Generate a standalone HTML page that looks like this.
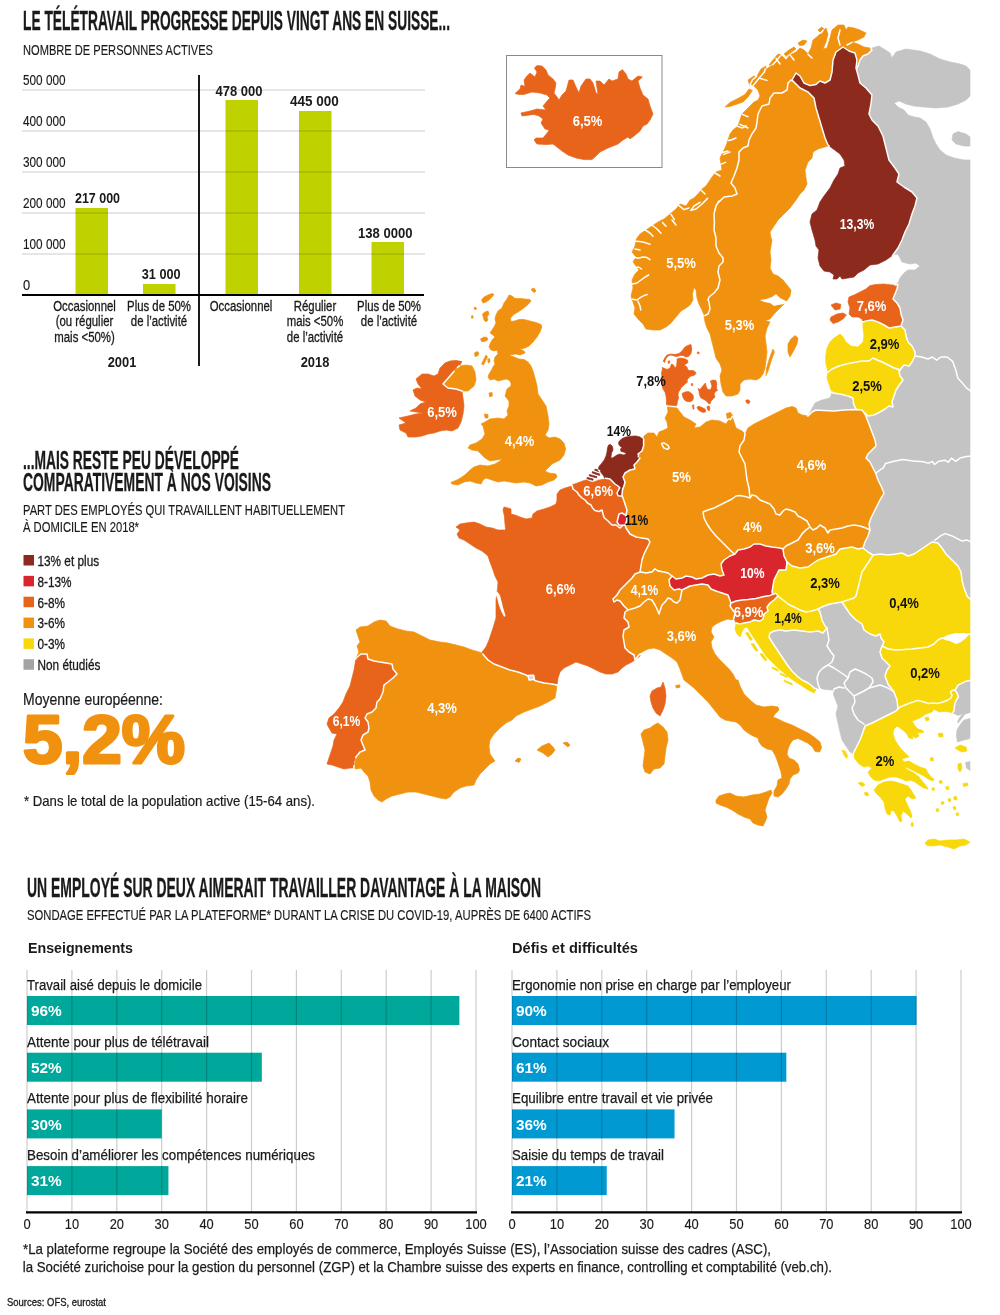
<!DOCTYPE html>
<html lang="fr">
<head>
<meta charset="utf-8">
<title>Le télétravail progresse depuis vingt ans en Suisse</title>
<style>
html,body{margin:0;padding:0;background:#fff;}
body{width:1000px;height:1315px;overflow:hidden;}
svg{display:block;font-family:"Liberation Sans",sans-serif;}
</style>
</head>
<body>
<svg width="1000" height="1315" viewBox="0 0 1000 1315" fill="#1a1a1a">
<path fill="#c4c4c4" stroke="#c4c4c4" stroke-width="0.7" stroke-linejoin="round" d="M866.0,52.4L870.0,51.6L872.0,48.0L879.0,46.0L884.0,49.0L890.0,53.0L892.0,58.0L896.0,52.0L906.0,49.0L920.0,51.0L930.0,54.0L940.0,59.0L950.0,62.0L960.0,64.0L966.0,66.0L970.0,70.0L976.0,70.0L976.0,96.0L970.0,96.0L966.0,100.0L958.0,104.0L948.0,107.0L936.0,108.0L924.0,107.0L914.0,106.0L906.0,104.0L899.0,101.0L894.0,103.0L898.0,107.0L904.0,110.0L908.0,115.0L914.0,117.0L920.0,118.0L926.0,122.0L930.0,129.0L933.0,138.0L936.0,144.0L940.0,150.0L946.0,155.0L954.0,158.0L964.0,160.0L976.0,160.0L980.0,440.0L980.0,600.0L960.0,600.0L920.0,560.0L860.0,560.0L860.0,520.0L840.0,420.0L816.0,410.0L812.0,412.0L808.0,416.0L815.0,403.0L822.0,400.0L830.0,398.0L832.0,393.0L860.0,380.0L890.0,340.0L890.0,300.0L894.0,285.6L898.0,283.0L900.0,278.0L904.0,273.0L908.0,270.0L915.0,270.0L920.0,266.0L916.0,263.0L910.0,264.0L902.0,262.0L898.0,254.0L893.0,255.0L884.0,252.0L894.0,240.0L904.0,214.0L908.0,198.0L890.0,174.0L880.0,160.0L874.0,136.0L860.0,114.0L862.0,95.0L850.0,83.0L850.0,60.0Z"/>
<path fill="#c4c4c4" stroke="#c4c4c4" stroke-width="0.7" stroke-linejoin="round" d="M953.0,134.0L958.0,131.6L966.0,134.0L970.0,137.0L976.0,137.0L976.0,146.0L970.0,146.0L964.0,146.0L956.0,144.0L952.0,140.0Z"/>
<path fill="#c4c4c4" stroke="#c4c4c4" stroke-width="0.7" stroke-linejoin="round" d="M780.0,626.0L800.0,626.0L818.0,626.0L827.0,628.0L816.0,620.0L810.0,600.0L840.0,590.0L864.0,616.0L888.0,640.0L896.0,670.0L904.0,700.0L904.0,710.0L900.0,716.0L888.0,722.0L876.0,728.0L868.0,734.0L864.0,742.0L860.0,750.0L854.0,755.0L851.0,752.4L850.0,752.0L846.0,746.0L842.0,740.0L840.0,732.0L838.0,723.0L836.0,714.0L838.0,706.0L834.0,696.0L832.0,690.0L820.0,689.0L814.0,687.0L814.0,691.0L807.0,686.0L800.0,681.0L793.0,676.0L786.0,670.0L780.0,663.0L773.0,655.0L767.0,646.0L764.0,636.0L772.0,628.0L780.0,626.0L796.0,626.0L812.0,626.0Z"/>
<path fill="#c4c4c4" stroke="#c4c4c4" stroke-width="0.7" stroke-linejoin="round" d="M950.0,690.0L950.0,684.0L960.0,676.0L972.0,675.0L972.0,712.0L965.0,714.0L962.0,718.0L958.0,723.0L957.5,722.0L960.0,717.0L963.0,713.5L958.0,715.5L953.0,713.0L951.0,710.0Z"/>
<path fill="#c4c4c4" stroke="#c4c4c4" stroke-width="0.7" stroke-linejoin="round" d="M972.0,718.0L964.0,720.0L960.0,725.0L957.0,730.0L956.5,736.0L957.5,742.0L964.0,740.0L972.0,738.0Z"/>
<path fill="#c4c4c4" stroke="#c4c4c4" stroke-width="0.7" stroke-linejoin="round" d="M965.6,762.4L970.0,761.6L976.0,762.0L976.0,770.4L970.0,770.4L966.4,768.0Z"/>
<path fill="#e8641b" stroke="#e8641b" stroke-width="0.7" stroke-linejoin="round" d="M515.0,93.6L520.0,89.0L521.0,85.0L525.0,86.4L524.0,80.0L527.0,76.0L530.0,73.0L535.0,77.0L537.0,72.0L534.4,68.0L537.0,65.6L542.0,66.0L546.0,70.0L548.0,75.0L553.0,79.0L556.0,83.0L555.0,89.0L554.0,93.0L557.0,97.0L559.0,100.0L562.0,95.0L566.0,91.0L569.0,80.0L573.0,80.0L576.0,87.0L579.0,93.0L581.0,86.0L586.0,79.0L590.0,79.0L593.0,83.0L596.0,93.0L598.0,94.0L596.0,81.0L600.0,81.0L604.0,85.0L609.0,79.0L612.0,81.0L618.0,79.0L619.0,72.0L622.4,69.6L626.0,74.0L628.0,79.0L632.0,81.0L638.0,76.0L642.4,77.0L638.0,81.0L640.0,88.0L643.0,95.0L648.0,99.0L650.0,106.0L653.0,114.0L650.0,120.0L647.0,124.0L643.0,126.0L640.0,131.0L634.0,136.0L630.0,139.0L628.0,137.0L623.0,140.0L618.0,144.0L608.0,148.0L600.0,152.0L596.0,156.0L592.0,159.6L584.0,159.6L576.0,158.0L568.0,155.0L562.0,151.0L557.0,147.0L553.0,144.0L546.0,144.6L537.0,144.0L534.0,140.0L536.0,138.0L543.0,138.0L548.0,132.0L549.0,130.0L545.0,129.0L541.0,123.0L543.0,119.0L539.0,116.0L534.0,114.4L522.0,116.0L521.0,113.0L530.0,111.0L537.0,109.0L546.0,110.0L543.0,106.0L548.0,100.0L550.0,98.0L547.0,95.0L540.0,93.0L532.0,92.0L524.0,94.4L519.0,94.4Z"/>
<path fill="#f0920f" stroke="#f0920f" stroke-width="0.7" stroke-linejoin="round" d="M704.0,315.0L702.0,310.0L699.0,304.0L697.0,298.0L696.0,290.0L694.0,287.6L692.4,294.0L693.0,300.0L690.0,305.0L686.0,308.0L681.0,311.0L676.0,317.0L671.0,323.0L666.0,327.0L660.0,330.0L653.0,330.0L646.0,329.0L643.0,324.0L638.0,319.0L634.0,314.0L635.0,308.0L633.0,302.0L631.0,296.0L633.0,288.0L632.0,280.0L635.0,274.0L639.0,270.0L636.0,266.0L633.0,262.0L636.0,257.0L632.0,252.0L635.0,246.0L636.0,240.0L637.0,238.0L640.0,234.0L646.0,230.0L652.0,226.0L658.0,222.0L664.0,219.0L670.0,214.0L676.0,209.0L680.0,204.0L686.0,206.0L690.0,200.0L694.0,198.0L698.0,194.0L702.0,189.0L706.0,186.0L710.0,180.0L712.0,177.0L716.0,172.0L722.0,170.0L721.0,164.0L720.0,158.0L723.0,152.0L726.0,146.0L728.0,140.0L730.0,134.0L733.0,130.0L738.0,126.0L740.0,120.0L742.0,114.0L746.0,110.0L750.0,106.0L754.0,102.0L758.0,100.0L760.0,96.0L758.0,90.0L754.0,86.0L750.0,86.0L748.0,80.0L754.0,76.0L760.0,78.0L762.0,72.0L768.0,68.0L774.0,64.0L776.0,58.0L782.0,56.0L786.0,60.0L790.0,55.0L796.0,52.0L800.0,48.0L804.0,50.0L808.0,54.0L811.0,48.0L813.0,40.0L818.0,36.0L822.0,32.0L826.0,28.0L828.0,34.0L826.0,42.0L823.0,49.0L827.0,48.0L830.0,38.0L832.0,30.0L838.0,25.0L844.0,25.0L846.0,30.0L848.0,27.0L854.0,28.0L860.0,30.0L866.0,33.0L864.0,37.0L858.0,40.0L852.0,42.0L858.0,44.0L864.0,47.0L870.0,48.0L872.0,50.0L868.0,54.0L863.0,56.0L860.0,60.0L858.0,66.0L852.0,80.0L820.0,100.0L800.0,96.0L780.0,104.0L768.0,124.0L752.0,160.0L740.0,200.0L728.0,220.0L728.0,280.0L720.0,300.0L712.0,316.0Z"/>
<path fill="none" stroke="#fff" stroke-width="1.5" stroke-linejoin="round" stroke-linecap="round" d="M870.9,48.9L872.0,50.0L868.0,54.0L863.0,56.0L860.0,60.0L858.0,66.0L852.0,80.0L849.5,81.6"/>
<path fill="#f0920f" stroke="#f0920f" stroke-width="0.7" stroke-linejoin="round" d="M725.0,107.0L730.0,102.4L738.0,98.4L745.0,94.4L749.0,89.0L752.4,90.4L748.0,97.0L743.0,102.0L736.0,104.4L730.0,106.4ZM750.0,85.0L752.4,80.0L757.0,76.0L761.0,69.0L766.0,66.0L764.4,72.0L760.0,77.0L756.0,82.0L752.4,86.4ZM769.0,65.0L773.0,60.0L778.0,54.0L781.0,55.0L777.0,60.0L773.0,64.4ZM784.0,54.0L789.0,50.0L794.0,47.0L796.0,49.0L791.0,52.4L786.4,56.0ZM798.0,43.0L803.0,40.0L807.0,41.0L804.0,45.0L799.6,45.6ZM818.0,30.0L821.6,27.0L824.0,29.0L821.0,33.0Z"/>
<path fill="none" stroke="#fff" stroke-width="1.5" stroke-linejoin="round" stroke-linecap="round" d="M765.1,69.3L764.4,72.0L760.0,77.0L756.0,82.0L752.4,86.4L750.0,85.0L752.4,80.0L756.6,76.3M780.1,56.1L777.0,60.0L773.0,64.4L772.4,64.5M823.1,30.2L821.0,33.0L820.6,32.6"/>
<path fill="#f0920f" stroke="#f0920f" stroke-width="0.7" stroke-linejoin="round" d="M791.0,80.0L788.0,83.0L787.0,90.0L782.0,93.0L774.0,93.0L770.0,98.0L769.0,104.0L762.0,106.0L758.0,114.0L757.0,122.0L756.0,128.0L752.0,134.0L749.0,140.0L748.0,146.0L743.0,148.0L739.0,152.0L739.0,160.0L737.0,168.0L734.0,176.0L731.0,183.0L735.0,188.0L737.0,194.0L732.0,196.0L724.0,197.0L719.0,202.0L719.0,201.0L716.0,206.0L714.0,214.0L714.4,222.0L714.0,230.0L716.0,238.0L716.0,246.0L719.0,253.0L723.0,258.0L723.0,262.0L719.0,266.0L718.0,272.0L720.0,280.0L718.0,288.0L714.0,293.0L709.0,297.0L708.0,300.0L709.0,302.0L710.0,309.0L708.0,314.0L704.0,316.0L705.0,322.0L707.0,328.0L710.0,334.0L712.0,342.0L714.0,350.0L716.0,358.0L720.0,364.0L722.0,370.0L720.0,376.0L721.0,384.0L723.0,392.0L726.0,396.0L732.0,396.0L738.0,394.0L740.0,390.0L740.0,384.0L744.0,380.0L750.0,379.0L756.0,380.0L760.0,378.0L763.0,374.0L765.0,368.0L766.0,360.0L767.0,352.0L766.0,344.0L765.0,336.0L767.0,328.0L770.0,322.0L765.0,320.4L770.0,319.0L774.0,314.0L778.0,310.0L782.0,306.0L786.0,302.0L790.0,296.0L791.0,290.0L787.0,285.0L783.0,280.0L778.0,276.0L773.0,274.0L770.0,268.0L771.0,260.0L770.0,252.0L771.0,246.0L772.0,240.0L771.0,238.0L770.0,232.0L774.0,226.0L778.0,220.0L784.0,214.0L790.0,208.0L796.0,200.0L800.0,194.0L804.0,190.0L807.0,184.0L806.0,178.0L805.0,170.0L808.0,162.0L812.0,158.0L813.0,152.0L818.0,149.0L828.0,146.0L836.0,140.0L828.0,120.0L820.0,100.0L804.0,86.0Z"/>
<path fill="none" stroke="#fff" stroke-width="1.5" stroke-linejoin="round" stroke-linecap="round" d="M820.2,100.5L820.0,100.0L804.0,86.0L791.0,80.0L788.0,83.0L787.0,90.0L782.0,93.0L774.0,93.0L770.0,98.0L769.0,104.0L762.0,106.0L758.0,114.0L757.0,122.0L756.0,128.0L752.0,134.0L749.0,140.0L748.0,146.0L743.0,148.0L739.0,152.0L739.0,160.0L737.0,168.0L734.0,176.0L731.0,183.0L735.0,188.0L737.0,194.0L732.0,196.0L724.0,197.0L719.0,202.0L719.0,201.0L716.0,206.0L714.0,214.0L714.4,222.0L714.0,230.0L716.0,238.0L716.0,246.0L719.0,253.0L723.0,258.0L723.0,262.0L719.0,266.0L718.0,272.0L720.0,280.0L718.0,288.0L714.0,293.0L709.0,297.0L708.0,300.0L709.0,302.0L710.0,309.0L708.0,314.0L704.8,315.6"/>
<path fill="#f0920f" stroke="#f0920f" stroke-width="0.7" stroke-linejoin="round" d="M773.0,349.0L774.4,352.0L771.4,360.0L768.4,370.0L766.0,375.6L766.6,368.0L769.6,358.0Z"/>
<path fill="#f0920f" stroke="#f0920f" stroke-width="0.7" stroke-linejoin="round" d="M795.0,335.6L798.0,338.0L797.0,344.0L794.0,350.0L790.0,357.0L788.0,352.0L788.0,344.0L791.0,339.0Z"/>
<path fill="#8c2a1e" stroke="#8c2a1e" stroke-width="0.7" stroke-linejoin="round" d="M792.0,80.0L796.0,73.0L800.0,76.0L804.0,83.0L810.0,85.6L816.0,84.4L820.0,81.0L825.0,83.0L830.0,80.0L832.0,72.0L833.0,60.0L836.0,52.0L843.0,47.0L849.0,51.0L855.0,53.0L857.0,60.0L856.0,68.0L858.0,75.0L860.0,83.0L866.0,88.0L872.0,95.0L871.0,104.0L869.0,114.0L872.0,120.0L878.0,126.0L883.0,136.0L886.0,148.0L889.0,160.0L895.0,168.0L899.0,174.0L897.0,182.0L904.0,187.0L912.0,192.0L917.0,198.0L915.0,206.0L912.0,214.0L909.0,224.0L905.0,232.0L902.0,240.0L898.0,248.0L893.0,255.0L886.0,260.0L878.0,264.0L870.0,265.0L864.0,270.0L858.0,273.0L854.0,277.0L848.0,278.0L842.0,279.0L840.0,276.0L837.0,279.0L833.0,279.0L834.0,275.0L830.0,272.0L824.0,271.0L820.0,266.0L818.0,258.0L819.0,250.0L816.0,246.0L815.0,240.0L812.0,230.0L810.0,222.0L812.0,214.0L817.0,210.0L820.0,202.0L824.0,196.0L830.0,188.0L834.0,180.0L838.0,174.0L840.0,168.0L845.0,166.0L844.0,160.0L840.0,154.0L832.0,148.0L828.0,145.0L825.0,138.0L822.0,128.0L819.0,118.0L816.0,108.0L814.0,98.0L808.0,92.0L800.0,88.0L795.0,83.0Z"/>
<path fill="none" stroke="#fff" stroke-width="1.5" stroke-linejoin="round" stroke-linecap="round" d="M829.1,145.8L828.0,145.0L825.0,138.0L822.0,128.0L819.0,118.0L816.0,108.0L814.0,98.0L808.0,92.0L800.0,88.0L795.0,83.0L792.0,80.0L796.0,73.0L800.0,76.0L804.0,83.0L810.0,85.6L816.0,84.4L820.0,81.0L825.0,83.0L830.0,80.0L832.0,72.0L833.0,60.0L836.0,52.0L843.0,47.0L849.0,51.0L855.0,53.0L857.0,60.0L856.0,68.0L858.0,75.0L860.0,83.0L866.0,88.0L872.0,95.0L871.0,104.0L869.0,114.0L872.0,120.0L878.0,126.0L883.0,136.0L886.0,148.0L889.0,160.0L895.0,168.0L899.0,174.0L897.0,182.0L904.0,187.0L912.0,192.0L917.0,198.0L915.0,206.0L912.0,214.0L909.0,224.0L905.0,232.0L902.0,240.0L898.0,248.0L893.0,255.0L892.5,255.4"/>
<path fill="#f8d80a" stroke="#f8d80a" stroke-width="0.7" stroke-linejoin="round" d="M826.0,354.0L827.0,348.0L830.0,342.0L834.0,338.0L840.0,334.0L843.0,337.0L846.0,342.0L851.0,346.0L858.0,347.0L863.0,342.0L864.0,336.0L863.0,328.0L863.0,322.0L866.0,321.0L872.0,320.0L878.0,322.0L884.0,325.0L889.0,328.0L895.0,327.0L901.0,326.0L905.0,330.0L906.0,336.0L908.0,342.0L912.0,346.0L915.0,352.0L915.0,356.0L912.0,362.0L909.0,366.0L904.0,365.0L900.0,370.0L894.0,368.0L888.0,365.0L882.0,362.0L877.0,360.0L873.0,358.0L869.0,361.0L862.0,361.0L854.0,362.4L846.0,364.0L839.0,366.0L832.0,369.0L828.0,372.0L826.0,364.0L825.6,358.0Z"/>
<path fill="none" stroke="#fff" stroke-width="1.5" stroke-linejoin="round" stroke-linecap="round" d="M889.5,327.9L895.0,327.0L901.0,326.0L905.0,330.0L906.0,336.0L908.0,342.0L912.0,346.0L915.0,352.0L915.0,356.0L912.0,362.0L909.0,366.0L904.0,365.0L900.0,370.0L894.0,368.0L888.0,365.0L882.0,362.0L877.0,360.0L875.1,359.0"/>
<path fill="#f8d80a" stroke="#f8d80a" stroke-width="0.7" stroke-linejoin="round" d="M828.0,372.0L832.0,369.0L839.0,366.0L846.0,364.0L854.0,362.4L862.0,361.0L869.0,361.0L873.0,358.0L877.0,360.0L882.0,362.0L888.0,365.0L894.0,368.0L900.0,370.0L899.0,371.0L900.0,376.0L903.0,380.0L900.0,384.0L896.0,390.0L894.0,396.0L892.0,402.0L893.0,407.0L889.0,406.0L885.0,409.0L880.0,412.0L874.0,415.0L868.0,416.0L865.0,413.0L860.0,411.0L856.0,409.0L853.6,404.0L853.0,398.0L848.0,396.0L840.0,394.0L833.0,393.0L831.0,390.0L829.0,384.0L827.0,378.0Z"/>
<path fill="none" stroke="#fff" stroke-width="1.5" stroke-linejoin="round" stroke-linecap="round" d="M827.9,372.5L828.0,372.0L832.0,369.0L839.0,366.0L846.0,364.0L854.0,362.4L862.0,361.0L869.0,361.0L873.0,358.0L877.0,360.0L882.0,362.0L888.0,365.0L894.0,368.0L900.0,370.0L899.0,371.0L900.0,376.0L903.0,380.0L900.0,384.0L896.0,390.0L894.0,396.0L892.0,402.0L893.0,407.0L889.0,406.0L885.0,409.0L880.0,412.0L874.0,415.0L868.0,416.0L865.0,413.0L860.0,411.0L856.0,409.0L853.6,404.0L853.0,398.0L848.0,396.0L840.0,394.0L833.0,393.0L832.5,392.2"/>
<path fill="#e8641b" stroke="#e8641b" stroke-width="0.7" stroke-linejoin="round" d="M898.0,284.4L892.0,285.0L884.0,284.0L876.0,284.4L870.0,285.6L866.0,289.0L860.0,292.0L854.0,295.0L849.0,297.0L848.0,302.0L850.0,308.0L849.0,314.0L852.0,317.0L858.0,317.0L862.0,319.0L863.0,322.0L866.0,321.0L872.0,320.0L878.0,322.0L884.0,325.0L889.0,328.0L895.0,327.0L901.0,326.0L903.0,320.0L901.0,314.0L900.0,308.0L897.0,303.0L893.0,299.0L895.0,294.0L897.0,289.0Z"/>
<path fill="none" stroke="#fff" stroke-width="1.5" stroke-linejoin="round" stroke-linecap="round" d="M862.8,321.5L863.0,322.0L866.0,321.0L872.0,320.0L878.0,322.0L884.0,325.0L889.0,328.0L895.0,327.0L901.0,326.0L903.0,320.0L901.0,314.0L900.0,308.0L897.0,303.0L893.0,299.0L895.0,294.0L897.0,289.0L898.0,284.4L894.4,284.8"/>
<path fill="#e8641b" stroke="#e8641b" stroke-width="0.7" stroke-linejoin="round" d="M831.0,305.0L836.0,303.0L841.0,304.4L840.0,309.0L835.0,310.0Z"/>
<path fill="#e8641b" stroke="#e8641b" stroke-width="0.7" stroke-linejoin="round" d="M831.0,317.0L837.0,314.0L843.0,313.0L846.4,315.0L843.0,319.0L838.0,322.0L833.0,323.6L830.0,320.0Z"/>
<path fill="#e8641b" stroke="#e8641b" stroke-width="0.7" stroke-linejoin="round" d="M677.0,359.0L680.0,358.0L684.0,358.5L687.5,360.0L688.0,362.5L686.0,364.0L684.0,365.0L687.0,367.0L687.5,369.0L689.0,370.5L693.0,370.5L695.5,372.0L696.0,373.5L694.0,375.5L691.0,376.0L689.0,377.5L687.0,380.0L687.5,382.0L685.0,384.0L683.0,386.0L681.0,388.0L680.0,390.0L678.5,392.0L678.0,395.0L678.5,398.0L677.5,401.0L677.0,404.5L676.5,405.8L666.5,404.8L666.5,400.0L666.0,396.0L665.0,392.0L663.0,389.0L662.0,385.0L661.5,381.0L662.0,377.0L661.5,373.0L662.5,369.0L662.0,367.5L665.0,368.5L667.0,369.5L670.0,368.0L671.5,364.0L673.5,365.0L675.0,368.0L676.5,366.0L677.0,362.0Z"/>
<path fill="#e8641b" stroke="#e8641b" stroke-width="0.7" stroke-linejoin="round" d="M691.0,344.5L691.8,349.0L691.0,353.5L688.5,356.5L686.0,357.0L683.0,355.5L680.0,355.5L677.0,356.5L674.0,356.0L671.0,355.0L668.0,356.0L666.0,358.5L664.5,362.5L663.2,361.2L665.0,357.5L667.0,355.0L671.0,354.0L675.0,354.5L679.0,353.5L682.0,351.0L684.5,347.5L687.5,345.5Z"/>
<path fill="#e8641b" stroke="#e8641b" stroke-width="0.7" stroke-linejoin="round" d="M682.0,393.5L685.0,392.0L688.5,391.5L691.0,393.0L693.0,395.0L693.5,398.0L692.5,400.5L690.0,401.8L687.0,401.5L684.5,400.0L683.0,397.5Z"/>
<path fill="#e8641b" stroke="#e8641b" stroke-width="0.7" stroke-linejoin="round" d="M698.0,388.5L700.0,389.5L702.0,387.0L704.0,384.5L705.5,383.0L706.0,386.0L707.0,388.5L709.0,390.0L711.0,389.0L712.0,386.0L711.0,383.0L710.5,381.0L713.0,380.0L716.0,380.5L716.8,384.0L716.5,388.0L717.5,390.5L715.5,391.5L714.0,394.0L715.0,397.0L713.0,399.0L711.0,401.0L710.0,404.0L708.0,403.0L706.5,401.0L704.0,399.5L701.0,398.0L699.5,395.0L699.0,391.5Z"/>
<path fill="#e8641b" stroke="#e8641b" stroke-width="0.7" stroke-linejoin="round" d="M697.0,407.0L699.0,406.2L702.0,407.5L705.0,409.0L706.0,411.5L703.5,412.5L700.5,411.5L698.0,409.5Z"/>
<path fill="#e8641b" stroke="#e8641b" stroke-width="0.7" stroke-linejoin="round" d="M707.0,406.5L709.0,406.0L710.0,408.0L709.0,411.0L707.5,409.5Z"/>
<path fill="#e8641b" stroke="#e8641b" stroke-width="0.7" stroke-linejoin="round" d="M745.8,400.2L748.5,399.8L750.0,401.5L749.0,403.5L746.5,403.0Z"/>
<path fill="#e8641b" stroke="#e8641b" stroke-width="0.7" stroke-linejoin="round" d="M697.2,352.2L699.0,352.0L699.2,353.6L697.6,353.8ZM691.2,383.8L692.6,383.6L692.8,385.4L691.4,385.6ZM692.5,405.0L693.6,404.8L694.0,409.0L693.0,409.2ZM668.0,361.2L669.6,360.8L669.8,363.0L668.4,363.4Z"/>
<path fill="#e8641b" stroke="#e8641b" stroke-width="0.7" stroke-linejoin="round" d="M572.0,486.0L565.0,488.0L560.0,490.0L557.0,494.0L557.0,500.0L556.0,504.0L550.0,507.0L544.0,509.0L537.0,511.0L533.0,514.0L532.0,518.0L526.0,519.0L520.0,517.0L515.0,515.0L511.0,514.0L511.0,509.0L508.0,508.0L504.0,507.0L503.0,510.0L504.4,516.0L505.0,524.0L505.6,530.0L498.0,530.0L492.0,528.0L486.0,527.0L480.0,524.0L474.0,522.0L466.0,523.0L460.0,524.0L456.0,527.0L460.0,530.0L457.0,534.0L459.0,538.0L464.0,540.0L470.0,544.0L476.0,548.0L482.0,551.0L488.0,556.0L490.0,562.0L493.0,570.0L495.0,576.0L498.0,582.0L497.6,588.0L496.0,600.0L496.0,618.0L493.0,628.0L489.0,640.0L486.0,647.0L482.0,652.0L488.0,660.0L494.0,664.0L502.0,667.0L510.0,670.0L518.0,672.0L526.0,675.0L536.0,681.0L544.0,683.0L552.0,684.0L557.0,685.0L558.0,678.0L560.0,672.0L564.0,668.0L570.0,665.0L576.0,662.0L582.0,664.0L588.0,666.0L594.0,669.0L600.0,672.0L606.0,674.0L612.0,674.0L618.0,672.0L622.0,668.0L626.0,665.0L632.0,662.0L635.0,660.0L640.0,656.0L636.0,620.0L640.0,590.0L660.0,590.0L660.0,540.0L632.0,528.0L616.0,520.0L598.0,504.0L584.0,494.0L576.0,487.0Z"/>
<path fill="#e8641b" stroke="#e8641b" stroke-width="0.7" stroke-linejoin="round" d="M663.0,682.0L665.0,688.0L666.0,696.0L665.0,704.0L663.0,710.0L660.0,716.0L656.0,713.0L653.0,708.0L651.0,702.0L650.0,696.0L652.0,691.0L657.0,688.0L661.0,687.0Z"/>
<path fill="#f0920f" stroke="#f0920f" stroke-width="0.7" stroke-linejoin="round" d="M482.0,653.0L488.0,660.0L494.0,664.0L502.0,667.0L510.0,670.0L518.0,672.0L526.0,675.0L536.0,681.0L544.0,683.0L552.0,684.0L557.0,685.0L556.0,692.0L555.0,698.0L548.0,702.0L540.0,706.0L532.0,709.0L524.0,712.0L516.0,716.0L512.0,720.0L506.0,723.0L500.0,728.0L494.0,734.0L490.0,740.0L489.0,746.0L490.0,754.0L495.0,761.0L490.0,764.0L486.0,768.0L480.0,774.0L476.0,780.0L474.0,785.0L466.0,786.0L460.0,788.0L454.0,792.0L450.0,797.0L446.0,799.0L440.0,798.0L432.0,796.0L424.0,794.0L416.0,792.0L408.0,792.0L400.0,794.0L392.0,796.0L386.0,799.0L382.0,802.0L378.0,800.0L374.0,796.0L371.0,790.0L370.0,782.0L368.0,776.0L364.0,772.0L361.0,768.0L356.0,769.0L354.0,768.0L360.0,740.0L360.0,700.0L360.0,670.0L356.0,658.0L359.0,652.0L357.0,646.0L360.0,642.0L358.0,636.0L356.0,630.0L360.0,627.0L368.0,626.0L374.0,622.0L380.0,620.0L386.0,621.0L390.0,626.0L398.0,629.0L406.0,631.0L414.0,632.0L422.0,636.0L430.0,640.0L440.0,642.0L448.0,643.0L456.0,645.0L464.0,647.0L472.0,650.0L479.0,652.0Z"/>
<path fill="none" stroke="#fff" stroke-width="1.5" stroke-linejoin="round" stroke-linecap="round" d="M483.0,654.2L488.0,660.0L494.0,664.0L502.0,667.0L510.0,670.0L518.0,672.0L526.0,675.0L536.0,681.0L544.0,683.0L552.0,684.0L557.0,685.0L556.9,685.5"/>
<path fill="#cfd6e4" stroke="#cfd6e4" stroke-width="0.7" stroke-linejoin="round" d="M528.0,675.6L533.6,675.2L534.4,679.2L529.2,680.0Z"/>
<path fill="none" stroke="#fff" stroke-width="1.5" stroke-linejoin="round" stroke-linecap="round" d="M528.0,675.6L533.6,675.2L534.4,679.2L529.2,680.0L528.0,675.6"/>
<path fill="#f0920f" stroke="#f0920f" stroke-width="0.7" stroke-linejoin="round" d="M537.0,750.0L542.0,746.0L549.0,743.0L553.0,747.0L555.0,750.0L552.0,754.0L548.0,757.0L543.0,753.0L540.0,751.6Z"/>
<path fill="#f0920f" stroke="#f0920f" stroke-width="0.7" stroke-linejoin="round" d="M563.0,743.0L567.0,742.0L570.0,745.0L568.0,747.0Z"/>
<path fill="#f0920f" stroke="#f0920f" stroke-width="0.7" stroke-linejoin="round" d="M515.0,761.0L518.0,758.0L521.0,759.0L519.0,762.4Z"/>
<path fill="#e8641b" stroke="#e8641b" stroke-width="0.7" stroke-linejoin="round" d="M356.0,658.0L361.0,654.0L367.0,654.0L368.0,659.0L374.0,661.0L380.0,662.0L386.0,663.0L392.0,664.0L393.0,669.0L397.0,674.0L393.0,678.0L388.0,682.0L384.0,685.0L383.0,692.0L380.0,699.0L377.0,702.0L376.0,708.0L372.0,712.0L367.0,714.0L365.0,718.0L368.0,722.0L369.0,728.0L368.0,732.0L363.0,735.0L361.0,740.0L363.0,745.0L365.0,750.0L360.0,752.0L356.0,757.0L354.0,762.0L354.0,768.0L350.0,768.0L344.0,769.0L338.0,767.0L332.0,765.0L327.0,764.0L329.0,758.0L331.0,752.0L333.0,746.0L334.0,740.0L337.0,734.0L332.0,733.0L329.0,728.0L327.0,724.0L329.0,718.0L334.0,714.0L339.0,708.0L343.0,702.0L346.0,694.0L350.0,686.0L352.0,678.0L354.0,670.0L355.0,664.0Z"/>
<path fill="none" stroke="#fff" stroke-width="1.5" stroke-linejoin="round" stroke-linecap="round" d="M354.0,765.6L354.0,768.0L353.5,768.0M355.8,659.1L356.0,658.0L361.0,654.0L367.0,654.0L368.0,659.0L374.0,661.0L380.0,662.0L386.0,663.0L392.0,664.0L393.0,669.0L397.0,674.0L393.0,678.0L388.0,682.0L384.0,685.0L383.0,692.0L380.0,699.0L377.0,702.0L376.0,708.0L372.0,712.0L367.0,714.0L365.0,718.0L368.0,722.0L369.0,728.0L368.0,732.0L363.0,735.0L361.0,740.0L363.0,745.0L365.0,750.0L360.0,752.0L356.0,757.0L355.7,757.8"/>
<path fill="#f0920f" stroke="#f0920f" stroke-width="0.7" stroke-linejoin="round" d="M509.0,295.0L512.0,296.0L515.0,298.5L520.0,298.5L525.0,299.0L530.0,299.5L531.0,301.0L528.0,304.5L525.0,307.0L521.0,310.0L518.0,312.0L514.5,314.0L512.0,316.0L510.5,318.5L511.0,321.5L514.5,321.0L519.0,319.5L524.0,319.5L530.0,321.0L536.0,322.5L541.0,324.5L541.8,327.0L540.0,332.0L537.0,337.0L533.0,342.0L529.0,346.0L525.0,348.0L520.0,349.0L524.0,351.0L525.0,353.0L520.0,355.0L516.0,354.0L512.0,354.5L509.5,355.5L514.0,357.0L519.0,359.0L524.0,359.5L528.0,362.0L531.0,366.0L533.0,371.0L535.0,378.0L537.0,386.0L538.0,394.0L542.0,400.0L546.0,406.0L548.0,416.0L549.0,424.0L548.0,430.0L545.0,435.0L549.0,438.0L555.0,437.0L560.0,439.0L564.0,443.0L565.6,449.0L564.0,455.0L560.0,460.0L556.0,462.0L552.0,464.0L548.0,468.0L545.0,471.0L549.0,473.0L556.0,474.0L557.0,477.0L554.0,480.0L548.0,482.0L542.0,485.0L536.0,486.0L530.0,483.0L524.0,482.0L516.0,483.0L510.0,482.0L504.0,481.0L498.0,482.0L492.0,480.0L486.0,478.0L483.0,480.0L481.0,484.0L476.0,483.0L470.0,481.0L464.0,482.0L458.0,485.0L452.0,484.0L451.0,482.4L457.0,480.0L462.0,477.0L466.0,474.0L470.0,470.0L474.0,467.0L480.0,465.0L488.0,466.0L495.0,464.0L500.0,461.0L502.0,459.0L496.0,460.0L490.0,461.0L485.0,458.0L481.0,454.0L478.0,451.0L472.0,450.0L468.0,448.0L470.0,445.0L476.0,443.0L482.0,439.0L485.0,434.0L483.0,426.0L481.0,424.0L485.0,422.0L490.0,419.0L498.0,418.0L504.0,419.0L508.0,415.0L507.0,411.0L509.0,406.0L509.0,401.0L505.0,396.0L507.0,389.0L511.0,386.0L511.0,383.0L509.0,380.0L506.0,379.0L502.0,380.0L498.0,381.0L494.0,379.0L490.0,380.0L488.0,377.0L489.0,374.0L491.0,371.0L493.0,367.0L495.0,364.0L494.0,361.0L495.0,357.0L498.0,354.0L497.0,350.0L494.0,351.0L491.0,350.0L489.0,347.0L490.0,344.0L492.0,340.0L495.0,337.0L493.0,335.0L490.0,333.0L492.0,330.0L494.0,327.0L496.0,323.0L495.0,319.0L496.0,315.0L498.0,311.0L502.0,308.0L504.0,303.0L507.0,299.0Z"/>
<path fill="#f0920f" stroke="#f0920f" stroke-width="0.7" stroke-linejoin="round" d="M481.5,300.0L484.0,297.0L488.0,295.0L492.0,293.5L494.0,294.5L492.0,297.0L489.0,300.0L486.0,302.0L483.0,303.0ZM474.0,307.5L475.8,307.2L476.6,309.0L474.8,309.8ZM471.3,316.0L472.8,315.6L473.2,317.8L471.8,318.4ZM482.5,314.0L485.0,312.0L488.0,311.0L489.0,314.0L487.0,317.0L488.0,320.0L486.0,322.0L484.0,320.0ZM480.5,339.0L484.0,337.0L487.0,337.5L488.0,339.5L485.0,341.5L481.5,341.5ZM474.5,353.0L477.0,351.5L479.0,353.0L477.5,356.0L475.0,356.5ZM481.5,364.0L484.0,359.0L486.0,355.0L487.5,357.0L485.5,361.0L483.5,365.0ZM487.8,359.0L489.6,358.6L490.0,362.0L488.2,363.0ZM531.5,289.0L534.0,288.0L536.0,291.0L534.5,292.5L532.0,291.0ZM489.0,393.0L492.0,392.4L492.4,396.0L489.6,396.8ZM484.4,414.0L488.0,414.4L488.0,418.0L485.2,418.0Z"/>
<path fill="#e8641b" stroke="#e8641b" stroke-width="0.7" stroke-linejoin="round" d="M443.0,384.0L448.0,388.0L456.0,389.0L462.0,391.0L463.0,398.0L464.0,406.0L463.0,414.0L461.0,422.0L458.0,428.0L452.0,431.0L446.0,430.0L440.0,431.0L434.0,433.0L428.0,434.0L422.0,436.0L416.0,437.0L408.0,437.0L406.0,433.0L400.0,430.0L399.0,425.0L406.0,423.0L399.0,418.0L408.0,416.0L416.0,414.0L423.0,413.0L410.0,411.0L416.0,408.0L420.0,404.0L426.0,402.0L420.0,400.0L415.0,396.0L413.0,390.0L417.0,388.0L422.0,389.0L418.0,384.0L416.0,379.0L422.0,374.0L428.0,374.0L434.0,376.0L438.0,374.0L440.0,368.0L445.0,363.0L450.0,361.0L456.0,360.4L462.0,361.6L460.0,365.0L456.0,368.0L450.0,375.6Z"/>
<path fill="#f0920f" stroke="#f0920f" stroke-width="0.7" stroke-linejoin="round" d="M459.0,366.0L466.0,365.0L472.0,366.0L475.0,372.0L476.0,380.0L474.0,386.0L468.0,391.0L462.0,391.0L456.0,389.0L448.0,388.0L443.0,384.0L450.0,376.0L456.0,369.0Z"/>
<path fill="none" stroke="#fff" stroke-width="1.5" stroke-linejoin="round" stroke-linecap="round" d="M462.5,391.0L462.0,391.0L456.0,389.0L448.0,388.0L443.0,384.0L450.0,376.0L454.1,371.3M457.5,367.5L459.0,366.0L459.6,365.9"/>
<path fill="#e8641b" stroke="#e8641b" stroke-width="0.7" stroke-linejoin="round" d="M572.0,485.0L576.0,483.5L580.0,482.0L584.0,480.5L586.5,480.0L589.0,481.2L592.0,482.2L595.0,481.7L598.0,480.2L601.0,479.7L604.0,479.2L607.0,478.3L610.0,477.5L617.0,484.0L622.0,490.0L626.0,496.0L628.0,505.0L627.0,512.0L626.0,520.0L628.0,520.0L620.0,528.0L616.0,525.0L612.0,525.0L608.0,521.0L604.0,517.5L603.0,514.0L602.0,510.0L599.0,511.5L595.0,510.5L592.5,508.0L591.0,505.0L587.5,503.0L585.0,500.0L582.0,498.0L579.0,495.0L577.0,492.0L573.0,489.0Z"/>
<path fill="none" stroke="#fff" stroke-width="1.5" stroke-linejoin="round" stroke-linecap="round" d="M624.4,523.6L620.0,528.0L616.0,525.0L612.0,525.0L608.0,521.0L604.0,517.5L603.0,514.0L602.0,510.0L599.0,511.5L595.0,510.5L592.5,508.0L591.0,505.0L587.5,503.0L585.0,500.0L582.0,498.0L579.0,495.0L577.0,492.0L573.0,489.0L572.1,485.5"/>
<path fill="#8c2a1e" stroke="#8c2a1e" stroke-width="0.7" stroke-linejoin="round" d="M619.0,441.5L622.0,438.5L626.0,437.0L631.0,436.2L636.0,436.0L640.0,437.0L644.0,440.0L644.5,444.0L643.5,448.0L642.0,451.0L640.5,454.0L637.5,455.0L637.0,457.0L639.5,458.5L642.0,460.5L641.0,463.5L638.5,465.5L635.5,467.0L633.5,469.5L630.5,470.0L627.5,471.0L625.5,473.0L624.5,475.5L625.5,478.0L626.5,481.0L627.0,484.0L625.5,486.5L623.5,488.0L622.5,490.5L623.5,493.5L622.0,496.2L618.0,495.8L617.0,493.0L618.5,490.0L619.8,487.8L618.0,486.0L615.0,484.0L613.0,482.0L610.0,479.0L607.0,478.5L604.5,478.2L603.8,476.2L602.2,474.0L600.2,471.5L598.4,469.2L599.0,466.5L602.0,463.0L604.5,459.5L606.0,456.0L607.0,452.0L607.5,448.0L608.5,445.0L610.5,444.5L612.5,446.5L613.0,450.0L611.5,453.0L611.0,456.5L611.5,458.5L614.0,457.0L617.0,455.0L620.0,454.0L623.0,455.0L625.5,454.5L626.0,453.0L623.5,452.0L621.0,451.5L620.5,449.0L622.0,447.5L620.0,446.0L618.5,444.0Z"/>
<path fill="none" stroke="#fff" stroke-width="1.5" stroke-linejoin="round" stroke-linecap="round" d="M622.7,490.1L622.5,490.5L623.5,493.5L622.0,496.2L618.0,495.8L617.0,493.0L618.5,490.0L619.8,487.8L618.0,486.0L615.0,484.0L613.0,482.0L610.0,479.0L607.0,478.5L605.3,478.3"/>
<path fill="#8c2a1e" stroke="#8c2a1e" stroke-width="0.7" stroke-linejoin="round" d="M587.2,477.4L593.2,479.0L592.9,480.3L586.9,478.7ZM589.4,474.5L596.8,476.6L596.5,477.9L589.1,475.8ZM592.4,471.6L599.8,474.1L599.5,475.4L592.1,472.9ZM595.0,469.0L599.6,470.6L599.3,471.9L594.7,470.3Z"/>
<path fill="none" stroke="#fff" stroke-width="1.5" stroke-linejoin="round" stroke-linecap="round" d="M598.6,470.2L599.6,470.6L599.4,471.3"/>
<path fill="#d9262c" stroke="#d9262c" stroke-width="0.7" stroke-linejoin="round" d="M619.0,514.0L622.0,513.0L627.0,516.0L629.0,520.0L628.0,525.6L619.0,525.0L617.0,522.0Z"/>
<path fill="none" stroke="#fff" stroke-width="1.5" stroke-linejoin="round" stroke-linecap="round" d="M628.0,525.5L628.0,525.6L619.0,525.0L617.0,522.0L619.0,514.0L622.0,513.0L627.0,516.0L627.0,516.0"/>
<path fill="#f0920f" stroke="#f0920f" stroke-width="0.7" stroke-linejoin="round" d="M643.6,440.0L644.0,436.0L648.0,433.0L654.0,433.0L657.0,437.0L659.0,432.0L664.0,430.0L668.0,428.0L667.0,422.0L665.0,418.0L668.0,412.0L667.4,407.0L677.0,408.0L680.0,412.0L684.0,417.0L690.0,420.0L696.0,424.0L694.0,428.0L700.0,427.0L706.0,422.0L712.0,420.0L720.0,421.0L726.0,424.0L730.0,418.0L728.0,414.0L732.0,416.0L734.0,422.0L736.0,428.0L742.0,431.0L745.0,434.0L752.0,440.0L756.0,460.0L758.0,490.0L754.0,500.0L740.0,512.0L724.0,520.0L732.0,540.0L740.0,552.0L732.0,560.0L724.0,580.0L700.0,584.0L680.0,582.0L674.0,580.0L672.0,576.0L668.0,573.0L664.0,572.0L658.0,571.0L655.0,569.0L652.0,572.0L646.0,573.0L640.0,572.0L641.0,566.0L642.0,560.0L644.0,554.0L647.0,548.0L650.0,542.0L648.0,539.0L642.0,538.0L636.0,537.0L630.0,534.0L626.0,528.0L625.0,525.0L627.0,520.0L626.0,515.0L627.0,510.0L625.0,504.0L623.0,498.0L622.0,495.2L622.6,489.4L624.0,486.0L625.0,482.0L623.0,477.0L625.0,473.0L630.0,470.0L635.0,469.0L634.0,465.0L637.0,462.0L640.0,458.0L638.0,454.0L642.0,451.0L643.6,446.0Z"/>
<path fill="none" stroke="#fff" stroke-width="1.5" stroke-linejoin="round" stroke-linecap="round" d="M660.5,571.4L658.0,571.0L655.0,569.0L652.0,572.0L646.0,573.0L640.0,572.0L641.0,566.0L642.0,560.0L644.0,554.0L647.0,548.0L650.0,542.0L648.0,539.0L642.0,538.0L636.0,537.0L630.0,534.0L626.0,528.0L625.0,525.0L627.0,520.0L626.0,515.0L627.0,510.0L625.0,504.0L623.0,498.0L622.0,495.2L622.6,489.4L624.0,486.0L625.0,482.0L623.0,477.0L625.0,473.0L630.0,470.0L634.5,469.1M634.9,468.6L634.0,465.0L637.0,462.0L639.9,458.2M638.6,455.2L638.0,454.0L642.0,451.0L643.6,446.0L643.6,440.0L643.7,439.1"/>
<path fill="#f0920f" stroke="#f0920f" stroke-width="0.7" stroke-linejoin="round" d="M726.4,413.6L730.4,412.4L733.0,415.6L730.4,419.6L727.2,418.4Z"/>
<path fill="none" stroke="#fff" stroke-width="1.5" stroke-linejoin="round" stroke-linecap="round" d="M732.6,416.2L730.4,419.6L728.7,419.0"/>
<path fill="#f0920f" stroke="#f0920f" stroke-width="0.7" stroke-linejoin="round" d="M745.0,434.0L748.0,428.0L754.0,424.0L762.0,420.0L770.0,416.0L778.0,412.0L786.0,408.0L792.0,406.4L796.0,408.0L798.0,413.0L802.0,415.0L808.0,416.0L812.0,412.0L816.0,410.0L824.0,410.4L834.0,411.0L844.0,410.0L854.0,409.6L862.0,410.0L865.0,414.0L867.0,419.0L869.0,424.0L872.0,432.0L875.0,440.0L876.0,446.0L872.0,450.0L868.0,454.0L866.0,458.0L870.0,462.0L873.0,468.0L876.0,474.0L878.0,480.0L881.0,486.0L884.0,493.0L880.0,500.0L877.0,506.0L874.0,512.0L871.0,518.0L869.0,524.0L870.0,530.0L866.0,534.0L860.0,540.0L840.0,544.0L820.0,540.0L806.0,536.0L790.0,524.0L770.0,516.0L752.0,504.0L750.0,498.0L749.0,488.0L747.0,480.0L746.0,472.0L745.0,464.0L742.0,458.0L739.0,452.0L740.0,446.0L744.0,440.0Z"/>
<path fill="none" stroke="#fff" stroke-width="1.5" stroke-linejoin="round" stroke-linecap="round" d="M751.6,502.7L750.0,498.0L749.0,488.0L747.0,480.0L746.0,472.0L745.0,464.0L742.0,458.0L739.0,452.0L740.0,446.0L744.0,440.0L745.0,434.0L745.2,433.5M807.5,415.9L808.0,416.0L812.0,412.0L816.0,410.0L824.0,410.4L834.0,411.0L844.0,410.0L854.0,409.6L862.0,410.0L865.0,414.0L867.0,419.0L869.0,424.0L872.0,432.0L875.0,440.0L876.0,446.0L872.0,450.0L868.0,454.0L866.0,458.0L870.0,462.0L873.0,468.0L876.0,474.0L878.0,480.0L881.0,486.0L884.0,493.0L880.0,500.0L877.0,506.0L874.0,512.0L871.0,518.0L869.0,524.0L870.0,530.0L866.0,534.0L860.0,540.0L859.5,540.1"/>
<path fill="#f0920f" stroke="#f0920f" stroke-width="0.7" stroke-linejoin="round" d="M750.0,498.0L752.0,495.0L756.0,496.0L760.0,500.0L765.0,502.0L770.0,504.0L774.0,509.0L776.0,514.0L780.0,515.0L783.0,511.0L786.0,509.0L790.0,510.0L795.0,512.0L798.0,516.0L802.0,518.0L807.0,521.0L810.0,527.0L806.0,530.0L802.0,534.0L798.0,540.0L792.0,543.0L786.0,546.0L783.0,549.0L780.0,554.0L760.0,556.0L740.0,558.0L732.0,552.0L728.0,548.0L724.0,544.0L716.0,536.0L711.0,530.0L707.0,524.0L704.0,518.0L703.0,512.0L708.0,510.0L714.0,508.0L720.0,505.0L726.0,502.0L732.0,499.0L736.0,496.0L740.0,495.6L745.0,496.4Z"/>
<path fill="none" stroke="#fff" stroke-width="1.5" stroke-linejoin="round" stroke-linecap="round" d="M737.0,555.7L732.0,552.0L728.0,548.0L724.0,544.0L716.0,536.0L711.0,530.0L707.0,524.0L704.0,518.0L703.0,512.0L708.0,510.0L714.0,508.0L720.0,505.0L726.0,502.0L732.0,499.0L736.0,496.0L740.0,495.6L745.0,496.4L750.0,498.0L752.0,495.0L756.0,496.0L760.0,500.0L765.0,502.0L770.0,504.0L774.0,509.0L776.0,514.0L780.0,515.0L783.0,511.0L786.0,509.0L790.0,510.0L795.0,512.0L798.0,516.0L802.0,518.0L807.0,521.0L810.0,527.0L806.0,530.0L802.2,533.8"/>
<path fill="#d9262c" stroke="#d9262c" stroke-width="0.7" stroke-linejoin="round" d="M672.0,576.0L676.0,579.0L682.0,578.0L686.0,576.0L692.0,577.0L696.0,579.0L702.0,578.0L708.0,575.0L714.0,574.0L720.0,576.0L724.0,575.0L722.0,570.0L721.0,564.0L724.0,560.0L730.0,556.0L735.0,554.0L738.0,550.0L744.0,549.0L750.0,547.0L754.0,544.0L760.0,544.0L766.0,546.0L772.0,547.0L780.0,548.0L783.0,549.0L790.0,552.0L792.0,560.0L794.0,570.0L788.0,580.0L784.0,592.0L780.0,596.0L772.0,606.0L760.0,606.0L748.0,606.0L740.0,606.0L734.0,603.0L728.0,601.0L722.0,599.0L716.0,597.0L711.0,595.0L708.0,591.0L702.0,590.0L696.0,591.0L690.0,592.0L686.0,594.0L682.0,596.0L679.0,589.0L674.0,590.0L670.0,586.0L669.0,580.0Z"/>
<path fill="none" stroke="#fff" stroke-width="1.5" stroke-linejoin="round" stroke-linecap="round" d="M671.7,576.4L672.0,576.0L676.0,579.0L682.0,578.0L686.0,576.0L692.0,577.0L696.0,579.0L702.0,578.0L708.0,575.0L714.0,574.0L720.0,576.0L724.0,575.0L722.0,570.0L721.0,564.0L724.0,560.0L730.0,556.0L735.0,554.0L738.0,550.0L744.0,549.0L750.0,547.0L754.0,544.0L760.0,544.0L766.0,546.0L772.0,547.0L780.0,548.0L783.0,549.0L783.5,549.2"/>
<path fill="#f0920f" stroke="#f0920f" stroke-width="0.7" stroke-linejoin="round" d="M640.0,572.0L646.0,573.0L652.0,572.0L655.0,569.0L658.0,571.0L664.0,572.0L668.0,573.0L672.0,576.0L669.0,580.0L670.0,586.0L674.0,590.0L679.0,589.0L682.0,590.0L684.0,596.0L682.0,604.0L676.0,608.0L668.0,604.0L664.0,608.0L660.0,618.0L656.0,614.0L652.0,604.0L646.0,604.0L640.0,610.0L632.0,614.0L628.0,610.0L624.0,606.0L620.0,601.0L617.0,600.0L614.0,602.0L613.0,599.0L617.0,595.0L620.0,590.0L624.0,586.0L628.0,582.0L632.0,578.0L635.0,574.0Z"/>
<path fill="none" stroke="#fff" stroke-width="1.5" stroke-linejoin="round" stroke-linecap="round" d="M637.7,611.2L632.0,614.0L628.0,610.0L624.0,606.0L620.0,601.0L617.0,600.0L614.0,602.0L613.0,599.0L617.0,595.0L620.0,590.0L624.0,586.0L628.0,582.0L632.0,578.0L635.0,574.0L640.0,572.0L646.0,573.0L652.0,572.0L655.0,569.0L658.0,571.0L664.0,572.0L668.0,573.0L672.0,576.0L669.0,580.0L670.0,586.0L674.0,590.0L679.0,589.0L682.0,590.0L683.9,595.6"/>
<path fill="#f0920f" stroke="#f0920f" stroke-width="0.7" stroke-linejoin="round" d="M810.0,527.0L813.0,530.0L817.0,528.0L820.0,525.0L825.0,528.0L828.0,533.0L830.0,530.0L836.0,529.0L842.0,528.0L848.0,526.0L854.0,525.0L860.0,526.0L866.0,528.0L870.0,530.0L868.0,536.0L865.0,542.0L863.0,548.0L860.0,556.0L840.0,560.0L820.0,568.0L804.0,574.0L792.0,570.0L787.0,562.0L784.0,556.0L783.0,549.0L786.0,546.0L792.0,543.0L798.0,540.0L802.0,534.0L806.0,530.0Z"/>
<path fill="none" stroke="#fff" stroke-width="1.5" stroke-linejoin="round" stroke-linecap="round" d="M794.2,570.7L792.0,570.0L787.0,562.0L784.0,556.0L783.0,549.0L786.0,546.0L792.0,543.0L798.0,540.0L802.0,534.0L806.0,530.0L810.0,527.0L813.0,530.0L817.0,528.0L820.0,525.0L825.0,528.0L828.0,533.0L830.0,530.0L836.0,529.0L842.0,528.0L848.0,526.0L854.0,525.0L860.0,526.0L866.0,528.0L870.0,530.0L868.0,536.0L865.0,542.0L863.0,548.0L860.0,556.0L859.5,556.1"/>
<path fill="#f8d80a" stroke="#f8d80a" stroke-width="0.7" stroke-linejoin="round" d="M787.0,562.0L792.0,566.0L800.0,568.0L808.0,567.0L812.0,564.0L818.0,560.0L824.0,558.0L830.0,556.0L836.0,554.0L840.0,549.0L846.0,548.0L852.0,547.0L858.0,549.0L863.0,548.0L868.0,552.0L873.0,555.0L880.0,564.0L876.0,580.0L868.0,596.0L856.0,604.0L842.0,602.0L836.0,603.0L830.0,604.0L824.0,606.0L818.0,609.0L812.0,616.0L800.0,616.0L788.0,610.0L776.0,604.0L772.0,592.0L774.0,580.0L778.0,572.0L779.0,570.0L786.0,570.0Z"/>
<path fill="none" stroke="#fff" stroke-width="1.5" stroke-linejoin="round" stroke-linecap="round" d="M775.5,602.4L772.0,592.0L774.0,580.0L778.0,572.0L779.0,570.0L786.0,570.0L787.0,562.0L792.0,566.0L800.0,568.0L808.0,567.0L812.0,564.0L818.0,560.0L824.0,558.0L830.0,556.0L836.0,554.0L840.0,549.0L846.0,548.0L852.0,547.0L858.0,549.0L863.0,548.0L868.0,552.0L873.0,555.0L877.3,560.5M853.2,603.6L842.0,602.0L836.0,603.0L830.0,604.0L824.0,606.0L818.0,609.0L813.7,614.0"/>
<path fill="#e8641b" stroke="#e8641b" stroke-width="0.7" stroke-linejoin="round" d="M731.0,603.0L736.0,601.0L742.0,600.0L748.0,599.6L756.0,598.4L764.0,596.4L770.0,595.4L776.0,593.4L778.0,596.0L780.0,606.0L772.0,620.0L760.0,624.0L754.0,620.0L750.0,622.0L744.0,623.0L740.0,624.0L736.0,623.0L734.0,618.0L735.0,613.0L732.0,609.0L730.0,606.0Z"/>
<path fill="none" stroke="#fff" stroke-width="1.5" stroke-linejoin="round" stroke-linecap="round" d="M731.6,602.7L736.0,601.0L742.0,600.0L748.0,599.6L756.0,598.4L764.0,596.4L770.0,595.4L776.0,593.4L778.0,596.0L780.0,606.0L779.8,606.4"/>
<path fill="#f8d80a" stroke="#f8d80a" stroke-width="0.7" stroke-linejoin="round" d="M736.0,623.0L740.0,624.0L744.0,623.0L750.0,622.0L754.0,620.0L760.0,621.0L763.0,619.0L764.0,614.0L768.0,611.0L767.0,607.0L770.0,603.0L774.0,600.0L778.0,596.0L783.0,600.0L788.0,604.0L794.0,607.0L800.0,610.0L806.0,612.0L812.0,611.0L818.0,609.0L820.0,612.0L822.0,620.0L825.0,626.0L827.0,628.0L823.0,633.0L818.0,631.0L810.0,632.0L802.0,631.0L794.0,630.0L786.0,631.0L780.0,630.0L774.0,631.0L770.0,633.0L769.0,637.0L772.0,642.0L776.0,648.0L780.0,654.0L784.0,660.0L788.0,666.0L792.0,671.0L797.0,676.0L802.0,680.0L808.0,683.0L812.0,686.0L816.0,690.0L814.0,693.0L808.0,690.0L802.0,686.0L796.0,682.0L790.0,678.0L784.0,673.0L778.0,668.0L772.0,662.0L766.0,656.0L762.0,650.0L758.0,644.0L754.0,638.0L750.0,632.0L747.0,627.0L744.0,628.0L742.0,632.0L740.0,637.0L737.0,634.0L735.0,629.0Z"/>
<path fill="none" stroke="#fff" stroke-width="1.5" stroke-linejoin="round" stroke-linecap="round" d="M735.9,623.5L736.0,623.0L740.0,624.0L744.0,623.0L750.0,622.0L754.0,620.0L760.0,621.0L763.0,619.0L764.0,614.0L768.0,611.0L767.0,607.0L770.0,603.0L774.0,600.0L778.0,596.0L783.0,600.0L788.0,604.0L794.0,607.0L800.0,610.0L806.0,612.0L812.0,611.0L818.0,609.0L820.0,612.0L822.0,620.0L825.0,626.0L827.0,628.0L823.0,633.0L818.0,631.0L810.0,632.0L802.0,631.0L794.0,630.0L786.0,631.0L780.0,630.0L774.0,631.0L770.0,633.0L769.0,637.0L772.0,642.0L776.0,648.0L780.0,654.0L784.0,660.0L788.0,666.0L792.0,671.0L797.0,676.0L802.0,680.0L808.0,683.0L812.0,686.0L814.5,688.5"/>
<path fill="#f8d80a" stroke="#f8d80a" stroke-width="0.7" stroke-linejoin="round" d="M745.6,633.0L748.0,632.4L752.4,639.6L750.4,640.4ZM751.0,644.0L753.6,643.6L758.0,650.4L756.0,651.2ZM760.0,654.0L762.4,653.6L767.0,660.0L765.0,660.8ZM772.0,667.0L778.0,669.6L778.4,671.2L772.4,668.6ZM780.0,673.0L787.0,676.0L787.4,677.6L780.4,674.6ZM784.0,680.0L792.0,683.6L792.4,685.2L784.4,681.6Z"/>
<path fill="#f0920f" stroke="#f0920f" stroke-width="0.7" stroke-linejoin="round" d="M628.0,610.0L635.0,608.0L640.0,606.0L644.0,602.0L648.0,599.0L652.0,600.0L655.0,605.0L657.0,609.0L659.0,614.0L660.0,611.0L662.0,605.0L665.0,602.0L668.0,598.0L671.0,599.0L674.0,602.0L677.0,603.0L680.0,600.0L681.0,595.0L682.0,590.0L686.0,588.0L690.0,586.0L696.0,585.0L702.0,584.0L708.0,585.0L711.0,589.0L716.0,591.0L722.0,593.0L728.0,595.0L731.0,603.0L730.0,606.0L732.0,609.0L735.0,613.0L734.0,618.0L732.0,620.0L728.0,619.0L722.0,621.0L716.0,624.0L712.0,627.0L711.0,632.0L714.0,637.0L711.0,642.0L712.0,648.0L715.0,654.0L719.0,659.0L724.0,664.0L729.0,669.0L733.0,674.0L736.0,680.0L738.0,680.0L740.0,686.0L744.0,694.0L750.0,700.0L756.0,705.0L764.0,707.0L772.0,706.0L778.0,707.0L779.0,710.0L775.0,714.0L773.0,717.0L778.0,719.0L784.0,722.0L792.0,725.0L800.0,729.0L808.0,733.0L814.0,737.0L820.0,742.0L821.6,747.6L819.6,752.0L815.2,751.6L812.4,747.0L807.6,743.0L802.4,740.6L798.0,738.4L793.0,740.0L790.0,744.0L788.0,749.0L787.0,754.0L789.0,758.0L794.0,760.0L798.0,764.0L799.6,770.0L798.0,773.0L793.0,775.0L790.0,779.0L789.0,784.0L786.0,789.0L782.0,794.0L778.0,797.0L774.0,796.0L774.0,791.0L777.0,786.0L778.0,780.0L782.0,778.0L781.0,772.0L779.0,766.0L777.0,760.0L775.0,755.0L772.0,750.0L767.0,749.0L762.0,746.0L759.0,742.0L758.0,738.0L753.0,736.0L748.0,733.0L744.0,730.0L740.0,725.0L736.0,722.0L730.0,721.0L725.0,720.0L720.0,717.0L716.0,712.0L712.0,707.0L708.0,702.0L703.0,697.0L698.0,692.0L694.0,688.0L689.0,684.0L684.0,680.0L680.0,669.0L677.0,662.0L672.0,658.0L666.0,654.0L660.0,650.0L654.0,648.0L648.0,649.0L642.0,652.0L638.0,656.0L635.0,660.0L634.0,655.0L629.0,652.0L625.0,648.0L624.0,642.0L623.0,636.0L624.0,630.0L629.0,627.0L628.0,622.0L624.0,618.0L625.0,612.0Z"/>
<path fill="none" stroke="#fff" stroke-width="1.5" stroke-linejoin="round" stroke-linecap="round" d="M640.3,653.7L638.0,656.0L635.0,660.0L634.0,655.0L629.0,652.0L625.0,648.0L624.0,642.0L623.0,636.0L624.0,630.0L629.0,627.0L628.0,622.0L624.0,618.0L625.0,612.0L628.0,610.0L635.0,608.0L640.0,606.0L644.0,602.0L648.0,599.0L652.0,600.0L655.0,605.0L657.0,609.0L659.0,614.0L660.0,611.0L662.0,605.0L665.0,602.0L668.0,598.0L671.0,599.0L674.0,602.0L677.0,603.0L680.0,600.0L681.0,595.0L682.0,590.0L686.0,588.0L690.0,586.0L696.0,585.0L702.0,584.0L708.0,585.0L711.0,589.0L716.0,591.0L722.0,593.0L728.0,595.0L730.8,602.5M730.8,602.5L731.0,603.0L730.0,606.0L732.0,609.0L735.0,613.0L734.0,618.0L733.6,618.4"/>
<path fill="#f0920f" stroke="#f0920f" stroke-width="0.7" stroke-linejoin="round" d="M716.0,800.0L719.0,796.0L725.0,794.0L730.0,793.0L736.0,796.0L744.0,797.0L752.0,795.0L760.0,794.0L766.0,792.0L771.0,790.0L772.0,793.0L769.0,798.0L767.0,804.0L765.0,810.0L767.0,817.0L765.0,822.0L763.0,826.0L758.0,825.0L753.0,823.0L750.0,819.0L744.0,817.0L738.0,814.0L732.0,810.0L726.0,807.0L720.0,805.0L716.0,803.0Z"/>
<path fill="#f0920f" stroke="#f0920f" stroke-width="0.7" stroke-linejoin="round" d="M658.0,723.0L663.0,727.0L667.0,732.0L668.0,740.0L666.0,748.0L665.0,756.0L664.0,764.0L660.0,768.0L654.0,769.0L650.0,774.0L645.0,772.0L643.0,766.0L644.0,758.0L645.0,750.0L643.0,742.0L641.0,734.0L644.0,730.0L650.0,728.0L654.0,725.0Z"/>
<path fill="#f0920f" stroke="#f0920f" stroke-width="0.7" stroke-linejoin="round" d="M675.6,685.6L679.6,684.8L680.0,687.2L676.4,688.0Z"/>
<path fill="#f8d80a" stroke="#f8d80a" stroke-width="0.7" stroke-linejoin="round" d="M873.0,555.0L880.0,554.0L888.0,555.0L896.0,554.0L902.0,553.0L908.0,556.0L914.0,554.0L920.0,550.0L926.0,546.0L932.0,542.0L938.0,543.0L942.0,548.0L946.0,554.0L952.0,560.0L958.0,566.0L961.0,572.0L962.0,580.0L964.0,588.0L967.0,596.0L970.0,599.0L972.0,600.0L972.0,634.0L969.0,634.0L964.0,633.0L956.0,633.0L948.0,635.0L942.0,638.0L938.0,640.0L934.0,644.0L928.0,647.0L920.0,648.0L912.0,649.0L904.0,649.6L896.0,650.0L888.0,649.0L882.0,646.0L884.0,642.0L881.0,638.0L880.0,634.0L876.0,636.0L870.0,634.0L864.0,630.0L862.0,624.0L856.0,620.0L850.0,614.0L846.0,608.0L842.0,602.0L848.0,600.0L854.0,598.0L856.0,596.0L858.0,588.0L860.0,580.0L862.0,572.0L866.0,566.0L870.0,560.0Z"/>
<path fill="none" stroke="#fff" stroke-width="1.5" stroke-linejoin="round" stroke-linecap="round" d="M891.0,649.4L888.0,649.0L882.0,646.0L884.0,642.0L881.0,638.0L880.0,634.0L876.0,636.0L870.0,634.0L864.0,630.0L862.0,624.0L856.0,620.0L850.0,614.0L846.0,608.0L842.0,602.0L848.0,600.0L854.0,598.0L856.0,596.0L858.0,588.0L860.0,580.0L862.0,572.0L866.0,566.0L870.0,560.0L873.0,555.0L880.0,554.0L888.0,555.0L896.0,554.0L902.0,553.0L908.0,556.0L914.0,554.0L920.0,550.0L926.0,546.0L932.0,542.0L938.0,543.0L942.0,548.0L946.0,554.0L952.0,560.0L958.0,566.0L961.0,572.0L962.0,580.0L964.0,588.0L967.0,596.0L970.0,599.0L972.0,600.0L972.0,600.5"/>
<path fill="#f8d80a" stroke="#f8d80a" stroke-width="0.7" stroke-linejoin="round" d="M882.0,646.0L888.0,649.0L896.0,650.0L904.0,649.6L912.0,649.0L920.0,648.0L928.0,647.0L934.0,644.0L938.0,640.0L942.0,638.0L945.0,640.0L950.0,641.0L956.0,644.0L961.0,642.0L966.0,638.0L969.0,634.0L972.0,634.0L972.0,680.0L970.0,680.4L966.0,681.2L962.0,683.2L958.0,685.2L955.2,690.0L953.2,692.0L954.0,698.0L952.8,702.0L948.0,704.0L942.0,705.0L936.0,706.0L931.0,706.0L926.0,707.0L920.0,706.0L916.0,704.0L908.0,706.0L900.0,709.0L898.0,709.0L897.0,700.0L894.0,692.0L888.0,684.0L885.0,676.0L887.0,670.0L890.0,666.0L886.0,662.0L882.0,658.0L880.0,652.0Z"/>
<path fill="none" stroke="#fff" stroke-width="1.5" stroke-linejoin="round" stroke-linecap="round" d="M904.5,707.3L900.0,709.0L898.0,709.0L897.0,700.0L894.0,692.0L888.0,684.0L885.0,676.0L887.0,670.0L890.0,666.0L886.0,662.0L882.0,658.0L880.0,652.0L882.0,646.0L888.0,649.0L896.0,650.0L904.0,649.6L912.0,649.0L920.0,648.0L928.0,647.0L934.0,644.0L938.0,640.0L942.0,638.0L942.5,638.3M972.0,674.5L972.0,680.0L970.0,680.4L966.0,681.2L962.0,683.2L958.0,685.2L955.2,690.0L953.2,692.0L954.0,698.0L952.8,702.0L950.2,703.1M968.7,634.4L969.0,634.0L972.0,634.0L972.0,634.5"/>
<path fill="#f8d80a" stroke="#f8d80a" stroke-width="0.7" stroke-linejoin="round" d="M853.0,754.0L856.0,748.0L860.0,740.0L863.0,732.0L865.0,726.0L872.0,723.0L880.0,719.0L888.0,715.0L896.0,711.0L900.0,707.0L910.0,703.0L918.0,700.4L924.0,702.0L928.0,703.4L933.0,703.0L938.0,703.4L943.0,702.0L948.0,700.0L951.0,698.0L952.0,695.0L950.4,692.0L952.0,690.6L955.0,690.0L957.0,693.0L958.4,697.0L956.4,700.0L955.0,703.0L954.4,707.0L954.0,711.0L952.4,713.0L949.0,712.0L944.0,711.4L940.0,712.0L935.0,710.0L934.0,709.0L932.0,712.0L929.0,713.0L926.0,714.0L923.0,716.0L920.0,718.0L915.0,720.0L912.0,721.0L915.0,726.0L918.0,729.0L922.0,730.0L924.0,732.0L920.0,733.0L917.0,732.0L919.0,736.0L916.0,738.0L912.0,736.0L913.0,739.0L909.0,738.0L907.0,734.0L904.0,731.0L900.0,728.0L897.0,726.0L894.0,729.0L893.0,734.0L895.0,740.0L898.0,745.0L902.0,750.0L906.0,754.0L909.0,757.0L905.0,758.0L902.0,759.0L904.0,762.0L909.0,761.0L914.0,764.0L920.0,767.0L926.0,769.0L928.0,773.0L931.0,777.0L934.0,779.0L933.0,781.0L928.0,779.0L924.0,776.0L920.0,774.0L916.0,772.0L912.0,770.0L908.0,768.0L904.0,767.0L908.0,770.0L914.0,773.0L919.0,777.0L923.0,782.0L927.0,787.0L928.0,789.0L924.0,788.0L919.0,785.0L915.0,782.0L910.0,780.0L906.0,781.0L902.0,779.0L896.0,777.0L890.0,777.0L884.0,779.0L879.0,781.0L874.0,780.0L870.0,776.0L868.0,772.0L872.0,768.0L868.0,766.0L864.0,767.0L859.0,764.0L855.0,759.0Z"/>
<path fill="none" stroke="#fff" stroke-width="1.5" stroke-linejoin="round" stroke-linecap="round" d="M853.5,755.2L853.0,754.0L856.0,748.0L860.0,740.0L863.0,732.0L865.0,726.0L872.0,723.0L880.0,719.0L888.0,715.0L896.0,711.0L900.0,707.0L910.0,703.0L918.0,700.4L924.0,702.0L928.0,703.4L933.0,703.0L938.0,703.4L943.0,702.0L948.0,700.0L951.0,698.0L952.0,695.0L950.4,692.0L952.0,690.6L955.0,690.0L957.0,693.0L958.4,697.0L956.4,700.0L955.0,703.0L954.4,707.0L954.0,711.0L952.4,713.0L952.4,713.0"/>
<path fill="#f8d80a" stroke="#f8d80a" stroke-width="0.7" stroke-linejoin="round" d="M874.0,790.0L878.0,785.0L884.0,782.0L890.0,781.0L896.0,782.0L902.0,784.0L908.0,786.0L911.0,790.0L914.0,795.0L916.0,798.0L912.0,799.0L908.0,796.0L905.0,799.0L907.0,804.0L910.0,810.0L912.0,816.0L911.0,818.0L907.0,814.0L903.0,811.0L901.0,816.0L902.0,821.0L900.0,822.0L897.0,816.0L894.0,811.0L891.0,810.0L890.0,815.0L887.0,814.0L885.0,808.0L884.0,802.0L880.0,797.0L876.0,793.0Z"/>
<path fill="#f8d80a" stroke="#f8d80a" stroke-width="0.7" stroke-linejoin="round" d="M925.0,843.0L928.0,840.0L934.0,839.0L940.0,841.0L948.0,840.0L956.0,840.0L964.0,839.0L970.0,842.0L966.0,845.0L960.0,846.0L954.0,849.0L948.0,847.0L940.0,845.0L932.0,846.0L927.0,845.6Z"/>
<path fill="#f8d80a" stroke="#f8d80a" stroke-width="0.7" stroke-linejoin="round" d="M842.0,750.0L845.0,751.0L847.6,756.0L846.4,758.4L844.0,755.0ZM858.0,783.0L862.0,782.0L865.0,785.0L862.0,786.4ZM864.0,793.0L867.0,792.0L869.0,795.0L866.0,796.0ZM925.0,717.6L928.4,717.0L929.2,720.0L926.0,721.0ZM938.0,733.6L942.4,733.0L943.2,736.4L939.2,737.2ZM955.0,748.0L960.0,745.0L966.0,747.0L967.0,751.0L962.0,752.0L958.0,750.0ZM958.0,764.0L961.0,763.0L962.0,768.0L960.0,772.0L958.0,769.0ZM963.0,783.6L967.6,783.0L968.0,785.6L963.6,786.4ZM930.0,758.0L932.8,757.6L933.6,760.4L930.8,761.0ZM939.0,781.0L941.6,780.4L942.4,783.0L940.0,783.6ZM945.6,787.0L948.4,786.4L949.2,789.2L946.4,789.6ZM953.6,797.0L956.4,796.4L957.2,799.6L954.4,800.0ZM948.0,799.0L950.4,798.6L951.0,801.2L948.6,801.6ZM941.0,802.0L943.6,801.6L944.0,804.0L941.6,804.4ZM936.0,809.0L938.4,808.6L938.8,811.2L936.4,811.6ZM953.0,807.0L955.4,806.6L956.0,809.2L953.6,809.6ZM956.0,813.2L958.4,812.8L958.8,815.2L956.4,815.6ZM911.0,823.0L913.0,822.6L913.4,826.0L911.4,826.4ZM932.0,788.0L934.0,787.6L934.6,790.0L932.4,790.4Z"/>
<g fill="#fff">
<path d="M760.0,300.0L766.0,299.0L772.0,297.0L776.0,294.0L780.0,298.0L788.0,302.0L784.0,304.0L778.0,305.0L774.0,306.0L770.0,303.0L764.0,302.0Z"/>
<path d="M496.8,591.0L500.0,595.2L501.6,601.6L503.2,608.0L505.6,616.0L504.0,616.8L501.2,611.2L498.8,604.8L497.2,598.4L495.6,594.0Z"/>
<path d="M942.0,638.0L948.0,635.0L956.0,633.0L964.0,633.0L969.0,634.0L966.0,638.0L961.0,642.0L956.0,644.0L950.0,641.0L945.0,640.0Z"/>
</g>
<g fill="none" stroke="#fff" stroke-width="1.5" stroke-linejoin="round" stroke-linecap="round">
<path d="M915.0,356.0L921.7,357.0L928.0,359.0L932.3,357.0L936.6,360.2L940.9,357.0L947.2,357.0L952.6,361.3L955.7,369.8L957.9,378.3L962.1,382.6L966.4,387.9L972.0,392.0"/>
<path d="M876.0,473.0L883.4,467.7L885.5,463.4L894.0,461.3L902.6,459.6L913.2,460.9L923.8,461.7L928.1,463.4L932.3,461.3L934.5,464.5L938.7,461.3L945.1,460.2L948.3,462.3L951.5,458.1L955.7,461.3L960.0,458.1L966.4,456.6L972.0,456.0"/>
<path d="M934.5,540.5L940.9,535.7L945.1,533.6L951.5,535.7L957.9,538.9L962.1,541.1L966.4,540.0L972.0,542.1"/>
<path d="M827.0,628.0L828.0,634.0L829.0,640.0L827.0,646.0L831.0,652.0L834.0,656.0L832.0,662.0L828.0,665.0"/>
<path d="M828.0,665.0L823.0,668.0L819.0,672.0L817.0,678.0L818.0,684.0L820.0,689.0"/>
<path d="M828.0,665.0L834.0,668.0L840.0,672.0L846.0,676.0L848.0,678.0"/>
<path d="M848.0,678.0L850.0,672.0L855.0,669.0L860.0,671.0L866.0,674.0L872.0,678.0L873.0,682.0L869.0,688.0L864.0,691.0L858.0,694.0L854.0,696.0L850.0,692.0L846.0,688.0L844.0,683.0L848.0,678.0"/>
<path d="M820.0,689.0L826.0,692.0L832.0,694.0L834.0,689.0L839.0,687.0L844.0,688.0"/>
<path d="M854.0,696.0L855.0,702.0L852.0,708.0L854.0,714.0L858.0,720.0L864.0,724.0"/>
<path d="M869.0,688.0L873.0,687.0L880.0,685.0L888.0,688.0L894.0,692.0"/>
<path d="M632.5,256.8L638.0,258.2L643.0,257.0L647.0,257.6L650.0,259.6"/>
<path d="M632.5,284.0L637.0,283.0L641.0,280.0L645.0,277.2L648.6,275.0"/>
<path d="M632.5,299.2L637.0,300.0L641.0,297.2L645.0,295.2L647.2,294.6"/>
<path d="M638.0,301.2L640.0,306.0L640.8,310.0"/>
<path d="M635.0,241.2L640.0,241.6L645.0,242.6L650.0,244.2"/>
<path d="M645.0,229.8L650.0,233.0L653.0,236.2"/>
<path d="M652.5,225.5L657.0,229.0L661.0,233.2"/>
<path d="M662.5,222.5L666.0,226.2"/>
<path d="M672.0,220.0L676.0,225.0"/>
<path d="M634.0,268.0L638.5,267.0L641.5,269.0"/>
<path d="M635.0,249.0L640.0,250.0"/>
<path d="M691.0,210.4L696.0,209.0L702.0,204.0L707.6,198.4"/>
<path d="M691.0,210.4L694.0,206.0L700.0,202.4"/>
<path d="M679.0,205.6L684.0,209.6L689.0,208.0"/>
<path d="M671.0,214.4L674.4,219.6"/>
<path d="M701.0,190.0L705.0,194.0"/>
<path d="M715.0,173.0L720.0,176.0"/>
<path d="M720.6,164.4L725.6,162.4"/>
<path d="M722.4,152.4L728.0,151.0"/>
<path d="M728.4,140.4L733.6,139.2"/>
<path d="M737.6,126.4L742.4,128.0L746.0,125.6"/>
<path d="M742.4,114.4L748.0,116.8"/>
<path d="M723.6,154.4L730.0,152.0"/>
<path d="M729.6,140.4L736.0,138.0"/>
<path d="M740.0,124.4L748.0,128.0"/>
<path d="M749.0,86.4L755.0,90.4"/>
<path d="M760.0,78.4L767.0,80.4"/>
<path d="M776.0,58.4L780.0,64.0"/>
<path d="M790.4,55.4L794.0,60.0"/>
<path d="M808.0,54.4L812.0,58.0"/>
<path d="M840.0,30.0L838.0,38.0L840.0,45.0"/>
<path d="M852.0,42.4L847.0,45.0"/>
<path d="M661.6,443.6L664.0,442.8L668.0,445.4L669.2,448.0L667.2,449.4L663.6,447.8L661.6,443.6"/>
</g>
<rect x="970.3" y="0" width="30" height="870" fill="#fff"/>
<rect x="506.5" y="55.5" width="155.5" height="112" fill="none" stroke="#8a8a8a" stroke-width="1"/>
<g font-weight="bold" font-size="14.8" text-anchor="middle">
<text transform="translate(587.5,126) scale(0.88,1)" fill="#fff">6,5%</text>
<text transform="translate(681,267.5) scale(0.88,1)" fill="#fff">5,5%</text>
<text transform="translate(739.5,330) scale(0.88,1)" fill="#fff">5,3%</text>
<text transform="translate(857,229) scale(0.82,1)" fill="#fff">13,3%</text>
<text transform="translate(871.5,311) scale(0.88,1)" fill="#fff">7,6%</text>
<text transform="translate(884.5,348.5) scale(0.88,1)" fill="#111">2,9%</text>
<text transform="translate(867,390.5) scale(0.88,1)" fill="#111">2,5%</text>
<text transform="translate(651,385.6) scale(0.88,1)" fill="#111">7,8%</text>
<text transform="translate(442,416.5) scale(0.88,1)" fill="#fff">6,5%</text>
<text transform="translate(519.5,446) scale(0.88,1)" fill="#fff">4,4%</text>
<text transform="translate(560.5,593.5) scale(0.88,1)" fill="#fff">6,6%</text>
<text transform="translate(442,712.5) scale(0.88,1)" fill="#fff">4,3%</text>
<text transform="translate(346.5,726) scale(0.82,1)" fill="#fff">6,1%</text>
<text transform="translate(598.2,496) scale(0.88,1)" fill="#fff">6,6%</text>
<text transform="translate(618.8,436.2) scale(0.82,1)" fill="#111">14%</text>
<text transform="translate(636.5,524.5) scale(0.82,1)" fill="#111">11%</text>
<text transform="translate(681.5,482) scale(0.88,1)" fill="#fff">5%</text>
<text transform="translate(811.5,470) scale(0.88,1)" fill="#fff">4,6%</text>
<text transform="translate(752.5,532) scale(0.88,1)" fill="#fff">4%</text>
<text transform="translate(820,553) scale(0.88,1)" fill="#fff">3,6%</text>
<text transform="translate(752.5,578) scale(0.82,1)" fill="#fff">10%</text>
<text transform="translate(644.5,595) scale(0.82,1)" fill="#fff">4,1%</text>
<text transform="translate(681.5,641) scale(0.88,1)" fill="#fff">3,6%</text>
<text transform="translate(748.5,617) scale(0.88,1)" fill="#fff">6,9%</text>
<text transform="translate(825,588) scale(0.88,1)" fill="#111">2,3%</text>
<text transform="translate(788,623) scale(0.82,1)" fill="#111">1,4%</text>
<text transform="translate(904,608) scale(0.88,1)" fill="#111">0,4%</text>
<text transform="translate(925,677.5) scale(0.88,1)" fill="#111">0,2%</text>
<text transform="translate(885,765.5) scale(0.88,1)" fill="#111">2%</text>
</g>
<text x="23" y="30.2" font-size="27" font-weight="bold" stroke="#1a1a1a" stroke-width="0.3" textLength="427" lengthAdjust="spacingAndGlyphs">LE TÉLÉTRAVAIL PROGRESSE DEPUIS VINGT ANS EN SUISSE...</text>
<text x="23" y="54.5" font-size="15" stroke="#1a1a1a" stroke-width="0.15" textLength="190" lengthAdjust="spacingAndGlyphs">NOMBRE DE PERSONNES ACTIVES</text>
<text x="23" y="85" font-size="14.3" stroke="#1a1a1a" stroke-width="0.15" textLength="42.5" lengthAdjust="spacingAndGlyphs">500 000</text>
<text x="23" y="126" font-size="14.3" stroke="#1a1a1a" stroke-width="0.15" textLength="42.5" lengthAdjust="spacingAndGlyphs">400 000</text>
<text x="23" y="167" font-size="14.3" stroke="#1a1a1a" stroke-width="0.15" textLength="42.5" lengthAdjust="spacingAndGlyphs">300 000</text>
<text x="23" y="208" font-size="14.3" stroke="#1a1a1a" stroke-width="0.15" textLength="42.5" lengthAdjust="spacingAndGlyphs">200 000</text>
<text x="23" y="249" font-size="14.3" stroke="#1a1a1a" stroke-width="0.15" textLength="42.5" lengthAdjust="spacingAndGlyphs">100 000</text>
<text x="23" y="290" font-size="14.3" stroke="#1a1a1a" stroke-width="0.15" textLength="7.2" lengthAdjust="spacingAndGlyphs">0</text>
<rect x="75.5" y="208" width="32.5" height="87" fill="#bfd200"/>
<rect x="143" y="284" width="32.5" height="11" fill="#bfd200"/>
<rect x="225.5" y="100" width="32.5" height="195" fill="#bfd200"/>
<rect x="299" y="111" width="32.5" height="184" fill="#bfd200"/>
<rect x="371.5" y="242" width="32.5" height="53" fill="#bfd200"/>
<line x1="22" y1="90" x2="425" y2="90" stroke="rgba(0,0,0,0.2)" stroke-width="1.2"/>
<line x1="22" y1="131" x2="425" y2="131" stroke="rgba(0,0,0,0.2)" stroke-width="1.2"/>
<line x1="22" y1="172" x2="425" y2="172" stroke="rgba(0,0,0,0.2)" stroke-width="1.2"/>
<line x1="22" y1="213" x2="425" y2="213" stroke="rgba(0,0,0,0.2)" stroke-width="1.2"/>
<line x1="22" y1="254" x2="425" y2="254" stroke="rgba(0,0,0,0.2)" stroke-width="1.2"/>
<line x1="22" y1="295" x2="424" y2="295" stroke="#000" stroke-width="2"/>
<line x1="199" y1="75" x2="199" y2="366" stroke="#000" stroke-width="1.8"/>
<text x="75" y="203" font-size="14" font-weight="bold" textLength="45" lengthAdjust="spacingAndGlyphs">217 000</text>
<text x="141.8" y="278.8" font-size="14" font-weight="bold" textLength="38.8" lengthAdjust="spacingAndGlyphs">31 000</text>
<text x="215.5" y="96.2" font-size="14" font-weight="bold" textLength="47" lengthAdjust="spacingAndGlyphs">478 000</text>
<text x="290" y="106.2" font-size="14" font-weight="bold" textLength="48.8" lengthAdjust="spacingAndGlyphs">445 000</text>
<text x="358" y="237.5" font-size="14" font-weight="bold" textLength="54.5" lengthAdjust="spacingAndGlyphs">138 0000</text>
<text x="84.5" y="311.0" font-size="13.8" text-anchor="middle" stroke="#1a1a1a" stroke-width="0.3" textLength="62.7" lengthAdjust="spacingAndGlyphs">Occasionnel</text>
<text x="84.5" y="326.3" font-size="13.8" text-anchor="middle" stroke="#1a1a1a" stroke-width="0.3" textLength="57.6" lengthAdjust="spacingAndGlyphs">(ou régulier</text>
<text x="84.5" y="341.6" font-size="13.8" text-anchor="middle" stroke="#1a1a1a" stroke-width="0.3" textLength="60.4" lengthAdjust="spacingAndGlyphs">mais &lt;50%)</text>
<text x="159" y="311.0" font-size="13.8" text-anchor="middle" stroke="#1a1a1a" stroke-width="0.3" textLength="63.9" lengthAdjust="spacingAndGlyphs">Plus de 50%</text>
<text x="159" y="326.3" font-size="13.8" text-anchor="middle" stroke="#1a1a1a" stroke-width="0.3" textLength="56.3" lengthAdjust="spacingAndGlyphs">de l’activité</text>
<text x="241" y="311.0" font-size="13.8" text-anchor="middle" stroke="#1a1a1a" stroke-width="0.3" textLength="62.7" lengthAdjust="spacingAndGlyphs">Occasionnel</text>
<text x="315" y="311.0" font-size="13.8" text-anchor="middle" stroke="#1a1a1a" stroke-width="0.3" textLength="42.4" lengthAdjust="spacingAndGlyphs">Régulier</text>
<text x="315" y="326.3" font-size="13.8" text-anchor="middle" stroke="#1a1a1a" stroke-width="0.3" textLength="56.6" lengthAdjust="spacingAndGlyphs">mais &lt;50%</text>
<text x="315" y="341.6" font-size="13.8" text-anchor="middle" stroke="#1a1a1a" stroke-width="0.3" textLength="56.3" lengthAdjust="spacingAndGlyphs">de l’activité</text>
<text x="389" y="311.0" font-size="13.8" text-anchor="middle" stroke="#1a1a1a" stroke-width="0.3" textLength="63.9" lengthAdjust="spacingAndGlyphs">Plus de 50%</text>
<text x="389" y="326.3" font-size="13.8" text-anchor="middle" stroke="#1a1a1a" stroke-width="0.3" textLength="56.3" lengthAdjust="spacingAndGlyphs">de l’activité</text>
<text x="122" y="367" font-size="14" font-weight="bold" text-anchor="middle" textLength="28.7" lengthAdjust="spacingAndGlyphs">2001</text>
<text x="315" y="367" font-size="14" font-weight="bold" text-anchor="middle" textLength="28.7" lengthAdjust="spacingAndGlyphs">2018</text>
<text x="23" y="468.5" font-size="25.5" font-weight="bold" stroke="#1a1a1a" stroke-width="0.3" textLength="216" lengthAdjust="spacingAndGlyphs">...MAIS RESTE PEU DÉVELOPPÉ</text>
<text x="23" y="491" font-size="25.5" font-weight="bold" stroke="#1a1a1a" stroke-width="0.3" textLength="248" lengthAdjust="spacingAndGlyphs">COMPARATIVEMENT À NOS VOISINS</text>
<text x="23" y="515.3" font-size="14.7" stroke="#1a1a1a" stroke-width="0.15" textLength="322" lengthAdjust="spacingAndGlyphs">PART DES EMPLOYÉS QUI TRAVAILLENT HABITUELLEMENT</text>
<text x="23" y="531.9" font-size="14.7" stroke="#1a1a1a" stroke-width="0.15" textLength="116" lengthAdjust="spacingAndGlyphs">À DOMICILE EN 2018*</text>
<rect x="23.5" y="555.0" width="10.5" height="10.5" fill="#8c2a1e"/>
<text x="37.5" y="565.8" font-size="14.2" stroke="#1a1a1a" stroke-width="0.3" textLength="61.6" lengthAdjust="spacingAndGlyphs">13% et plus</text>
<rect x="23.5" y="575.85" width="10.5" height="10.5" fill="#d9262c"/>
<text x="37.5" y="586.65" font-size="14.2" stroke="#1a1a1a" stroke-width="0.3" textLength="34.1" lengthAdjust="spacingAndGlyphs">8-13%</text>
<rect x="23.5" y="596.7" width="10.5" height="10.5" fill="#e8641b"/>
<text x="37.5" y="607.5" font-size="14.2" stroke="#1a1a1a" stroke-width="0.3" textLength="27.5" lengthAdjust="spacingAndGlyphs">6-8%</text>
<rect x="23.5" y="617.55" width="10.5" height="10.5" fill="#f0920f"/>
<text x="37.5" y="628.3499999999999" font-size="14.2" stroke="#1a1a1a" stroke-width="0.3" textLength="27.5" lengthAdjust="spacingAndGlyphs">3-6%</text>
<rect x="23.5" y="638.4" width="10.5" height="10.5" fill="#f8d80a"/>
<text x="37.5" y="649.1999999999999" font-size="14.2" stroke="#1a1a1a" stroke-width="0.3" textLength="27.5" lengthAdjust="spacingAndGlyphs">0-3%</text>
<rect x="23.5" y="659.25" width="10.5" height="10.5" fill="#a3a3a3"/>
<text x="37.5" y="670.05" font-size="14.2" stroke="#1a1a1a" stroke-width="0.3" textLength="62.9" lengthAdjust="spacingAndGlyphs">Non étudiés</text>
<text x="23" y="705" font-size="15.6" stroke="#1a1a1a" stroke-width="0.2" textLength="140" lengthAdjust="spacingAndGlyphs">Moyenne européenne:</text>
<text x="23" y="763" font-size="68" font-weight="bold" fill="#f0920f" stroke="#f0920f" stroke-width="3" textLength="162" lengthAdjust="spacingAndGlyphs" stroke-linejoin="round">5,2%</text>
<text x="24" y="806" font-size="14.6" stroke="#1a1a1a" stroke-width="0.2" textLength="291" lengthAdjust="spacingAndGlyphs">* Dans le total de la population active (15-64 ans).</text>
<text x="27" y="896.8" font-size="27" font-weight="bold" stroke="#1a1a1a" stroke-width="0.3" textLength="514" lengthAdjust="spacingAndGlyphs">UN EMPLOYÉ SUR DEUX AIMERAIT TRAVAILLER DAVANTAGE À LA MAISON</text>
<text x="27" y="920.4" font-size="14.7" stroke="#1a1a1a" stroke-width="0.15" textLength="564" lengthAdjust="spacingAndGlyphs">SONDAGE EFFECTUÉ PAR LA PLATEFORME* DURANT LA CRISE DU COVID-19, AUPRÈS DE 6400 ACTIFS</text>
<text x="28" y="952.5" font-size="14.6" font-weight="bold" textLength="105" lengthAdjust="spacingAndGlyphs">Enseignements</text>
<text x="512" y="952.5" font-size="14.6" font-weight="bold" textLength="126" lengthAdjust="spacingAndGlyphs">Défis et difficultés</text>
<text x="27" y="990.0" font-size="14.7" stroke="#1a1a1a" stroke-width="0.25" textLength="175" lengthAdjust="spacingAndGlyphs">Travail aisé depuis le domicile</text>
<rect x="27" y="996.0" width="432.387" height="29" fill="#00a79b"/>
<text x="31" y="1016.3" font-size="15.4" font-weight="bold" fill="#fff" textLength="30.8" lengthAdjust="spacingAndGlyphs">96%</text>
<text x="27" y="1046.7" font-size="14.7" stroke="#1a1a1a" stroke-width="0.25" textLength="182" lengthAdjust="spacingAndGlyphs">Attente pour plus de télétravail</text>
<rect x="27" y="1052.7" width="234.827" height="29" fill="#00a79b"/>
<text x="31" y="1073.0" font-size="15.4" font-weight="bold" fill="#fff" textLength="30.8" lengthAdjust="spacingAndGlyphs">52%</text>
<text x="27" y="1103.4" font-size="14.7" stroke="#1a1a1a" stroke-width="0.25" textLength="221" lengthAdjust="spacingAndGlyphs">Attente pour plus de flexibilité horaire</text>
<rect x="27" y="1109.4" width="134.70000000000002" height="29" fill="#00a79b"/>
<text x="31" y="1129.7" font-size="15.4" font-weight="bold" fill="#fff" textLength="30.8" lengthAdjust="spacingAndGlyphs">30%</text>
<text x="27" y="1160.1" font-size="14.7" stroke="#1a1a1a" stroke-width="0.25" textLength="288" lengthAdjust="spacingAndGlyphs">Besoin d’améliorer les compétences numériques</text>
<rect x="27" y="1166.1" width="141.435" height="29" fill="#00a79b"/>
<text x="31" y="1186.3999999999999" font-size="15.4" font-weight="bold" fill="#fff" textLength="30.8" lengthAdjust="spacingAndGlyphs">31%</text>
<line x1="27.0" y1="970" x2="27.0" y2="1212" stroke="rgba(0,0,0,0.2)" stroke-width="1.2"/>
<line x1="71.9" y1="970" x2="71.9" y2="1212" stroke="rgba(0,0,0,0.2)" stroke-width="1.2"/>
<line x1="116.8" y1="970" x2="116.8" y2="1212" stroke="rgba(0,0,0,0.2)" stroke-width="1.2"/>
<line x1="161.7" y1="970" x2="161.7" y2="1212" stroke="rgba(0,0,0,0.2)" stroke-width="1.2"/>
<line x1="206.6" y1="970" x2="206.6" y2="1212" stroke="rgba(0,0,0,0.2)" stroke-width="1.2"/>
<line x1="251.5" y1="970" x2="251.5" y2="1212" stroke="rgba(0,0,0,0.2)" stroke-width="1.2"/>
<line x1="296.4" y1="970" x2="296.4" y2="1212" stroke="rgba(0,0,0,0.2)" stroke-width="1.2"/>
<line x1="341.3" y1="970" x2="341.3" y2="1212" stroke="rgba(0,0,0,0.2)" stroke-width="1.2"/>
<line x1="386.2" y1="970" x2="386.2" y2="1212" stroke="rgba(0,0,0,0.2)" stroke-width="1.2"/>
<line x1="431.09999999999997" y1="970" x2="431.09999999999997" y2="1212" stroke="rgba(0,0,0,0.2)" stroke-width="1.2"/>
<line x1="476.0" y1="970" x2="476.0" y2="1212" stroke="rgba(0,0,0,0.2)" stroke-width="1.2"/>
<line x1="26" y1="1212.4" x2="477" y2="1212.4" stroke="#000" stroke-width="2.3"/>
<text x="27.0" y="1228.5" font-size="14.3" text-anchor="middle" stroke="#1a1a1a" stroke-width="0.15" textLength="7.2" lengthAdjust="spacingAndGlyphs">0</text>
<text x="71.9" y="1228.5" font-size="14.3" text-anchor="middle" stroke="#1a1a1a" stroke-width="0.15" textLength="14.3" lengthAdjust="spacingAndGlyphs">10</text>
<text x="116.8" y="1228.5" font-size="14.3" text-anchor="middle" stroke="#1a1a1a" stroke-width="0.15" textLength="14.3" lengthAdjust="spacingAndGlyphs">20</text>
<text x="161.7" y="1228.5" font-size="14.3" text-anchor="middle" stroke="#1a1a1a" stroke-width="0.15" textLength="14.3" lengthAdjust="spacingAndGlyphs">30</text>
<text x="206.6" y="1228.5" font-size="14.3" text-anchor="middle" stroke="#1a1a1a" stroke-width="0.15" textLength="14.3" lengthAdjust="spacingAndGlyphs">40</text>
<text x="251.5" y="1228.5" font-size="14.3" text-anchor="middle" stroke="#1a1a1a" stroke-width="0.15" textLength="14.3" lengthAdjust="spacingAndGlyphs">50</text>
<text x="296.4" y="1228.5" font-size="14.3" text-anchor="middle" stroke="#1a1a1a" stroke-width="0.15" textLength="14.3" lengthAdjust="spacingAndGlyphs">60</text>
<text x="341.3" y="1228.5" font-size="14.3" text-anchor="middle" stroke="#1a1a1a" stroke-width="0.15" textLength="14.3" lengthAdjust="spacingAndGlyphs">70</text>
<text x="386.2" y="1228.5" font-size="14.3" text-anchor="middle" stroke="#1a1a1a" stroke-width="0.15" textLength="14.3" lengthAdjust="spacingAndGlyphs">80</text>
<text x="431.09999999999997" y="1228.5" font-size="14.3" text-anchor="middle" stroke="#1a1a1a" stroke-width="0.15" textLength="14.3" lengthAdjust="spacingAndGlyphs">90</text>
<text x="476.0" y="1228.5" font-size="14.3" text-anchor="middle" stroke="#1a1a1a" stroke-width="0.15" textLength="21.5" lengthAdjust="spacingAndGlyphs">100</text>
<text x="512" y="990.0" font-size="14.7" stroke="#1a1a1a" stroke-width="0.25" textLength="279" lengthAdjust="spacingAndGlyphs">Ergonomie non prise en charge par l’employeur</text>
<rect x="512" y="996.0" width="404.549" height="29" fill="#0099d2"/>
<text x="516" y="1016.3" font-size="15.4" font-weight="bold" fill="#fff" textLength="30.8" lengthAdjust="spacingAndGlyphs">90%</text>
<text x="512" y="1046.7" font-size="14.7" stroke="#1a1a1a" stroke-width="0.25" textLength="97" lengthAdjust="spacingAndGlyphs">Contact sociaux</text>
<rect x="512" y="1052.7" width="274.339" height="29" fill="#0099d2"/>
<text x="516" y="1073.0" font-size="15.4" font-weight="bold" fill="#fff" textLength="30.8" lengthAdjust="spacingAndGlyphs">61%</text>
<text x="512" y="1103.4" font-size="14.7" stroke="#1a1a1a" stroke-width="0.25" textLength="201" lengthAdjust="spacingAndGlyphs">Equilibre entre travail et vie privée</text>
<rect x="512" y="1109.4" width="162.538" height="29" fill="#0099d2"/>
<text x="516" y="1129.7" font-size="15.4" font-weight="bold" fill="#fff" textLength="30.8" lengthAdjust="spacingAndGlyphs">36%</text>
<text x="512" y="1160.1" font-size="14.7" stroke="#1a1a1a" stroke-width="0.25" textLength="152" lengthAdjust="spacingAndGlyphs">Saisie du temps de travail</text>
<rect x="512" y="1166.1" width="94.739" height="29" fill="#0099d2"/>
<text x="516" y="1186.3999999999999" font-size="15.4" font-weight="bold" fill="#fff" textLength="30.8" lengthAdjust="spacingAndGlyphs">21%</text>
<line x1="512.0" y1="970" x2="512.0" y2="1212" stroke="rgba(0,0,0,0.2)" stroke-width="1.2"/>
<line x1="556.9" y1="970" x2="556.9" y2="1212" stroke="rgba(0,0,0,0.2)" stroke-width="1.2"/>
<line x1="601.8" y1="970" x2="601.8" y2="1212" stroke="rgba(0,0,0,0.2)" stroke-width="1.2"/>
<line x1="646.7" y1="970" x2="646.7" y2="1212" stroke="rgba(0,0,0,0.2)" stroke-width="1.2"/>
<line x1="691.6" y1="970" x2="691.6" y2="1212" stroke="rgba(0,0,0,0.2)" stroke-width="1.2"/>
<line x1="736.5" y1="970" x2="736.5" y2="1212" stroke="rgba(0,0,0,0.2)" stroke-width="1.2"/>
<line x1="781.4" y1="970" x2="781.4" y2="1212" stroke="rgba(0,0,0,0.2)" stroke-width="1.2"/>
<line x1="826.3" y1="970" x2="826.3" y2="1212" stroke="rgba(0,0,0,0.2)" stroke-width="1.2"/>
<line x1="871.2" y1="970" x2="871.2" y2="1212" stroke="rgba(0,0,0,0.2)" stroke-width="1.2"/>
<line x1="916.0999999999999" y1="970" x2="916.0999999999999" y2="1212" stroke="rgba(0,0,0,0.2)" stroke-width="1.2"/>
<line x1="961.0" y1="970" x2="961.0" y2="1212" stroke="rgba(0,0,0,0.2)" stroke-width="1.2"/>
<line x1="511" y1="1212.4" x2="962" y2="1212.4" stroke="#000" stroke-width="2.3"/>
<text x="512.0" y="1228.5" font-size="14.3" text-anchor="middle" stroke="#1a1a1a" stroke-width="0.15" textLength="7.2" lengthAdjust="spacingAndGlyphs">0</text>
<text x="556.9" y="1228.5" font-size="14.3" text-anchor="middle" stroke="#1a1a1a" stroke-width="0.15" textLength="14.3" lengthAdjust="spacingAndGlyphs">10</text>
<text x="601.8" y="1228.5" font-size="14.3" text-anchor="middle" stroke="#1a1a1a" stroke-width="0.15" textLength="14.3" lengthAdjust="spacingAndGlyphs">20</text>
<text x="646.7" y="1228.5" font-size="14.3" text-anchor="middle" stroke="#1a1a1a" stroke-width="0.15" textLength="14.3" lengthAdjust="spacingAndGlyphs">30</text>
<text x="691.6" y="1228.5" font-size="14.3" text-anchor="middle" stroke="#1a1a1a" stroke-width="0.15" textLength="14.3" lengthAdjust="spacingAndGlyphs">40</text>
<text x="736.5" y="1228.5" font-size="14.3" text-anchor="middle" stroke="#1a1a1a" stroke-width="0.15" textLength="14.3" lengthAdjust="spacingAndGlyphs">50</text>
<text x="781.4" y="1228.5" font-size="14.3" text-anchor="middle" stroke="#1a1a1a" stroke-width="0.15" textLength="14.3" lengthAdjust="spacingAndGlyphs">60</text>
<text x="826.3" y="1228.5" font-size="14.3" text-anchor="middle" stroke="#1a1a1a" stroke-width="0.15" textLength="14.3" lengthAdjust="spacingAndGlyphs">70</text>
<text x="871.2" y="1228.5" font-size="14.3" text-anchor="middle" stroke="#1a1a1a" stroke-width="0.15" textLength="14.3" lengthAdjust="spacingAndGlyphs">80</text>
<text x="916.0999999999999" y="1228.5" font-size="14.3" text-anchor="middle" stroke="#1a1a1a" stroke-width="0.15" textLength="14.3" lengthAdjust="spacingAndGlyphs">90</text>
<text x="961.0" y="1228.5" font-size="14.3" text-anchor="middle" stroke="#1a1a1a" stroke-width="0.15" textLength="21.5" lengthAdjust="spacingAndGlyphs">100</text>
<text x="23" y="1253.5" font-size="15" stroke="#1a1a1a" stroke-width="0.25" textLength="748" lengthAdjust="spacingAndGlyphs">*La plateforme regroupe la Société des employés de commerce, Employés Suisse (ES), l’Association suisse des cadres (ASC),</text>
<text x="22.7" y="1271.5" font-size="15" stroke="#1a1a1a" stroke-width="0.25" textLength="809.3" lengthAdjust="spacingAndGlyphs">la Société zurichoise pour la gestion du personnel (ZGP) et la Chambre suisse des experts en finance, controlling et comptabilité (veb.ch).</text>
<text x="7" y="1306" font-size="10.5" stroke="#1a1a1a" stroke-width="0.3" textLength="99" lengthAdjust="spacingAndGlyphs">Sources: OFS, eurostat</text>
</svg>
</body>
</html>
